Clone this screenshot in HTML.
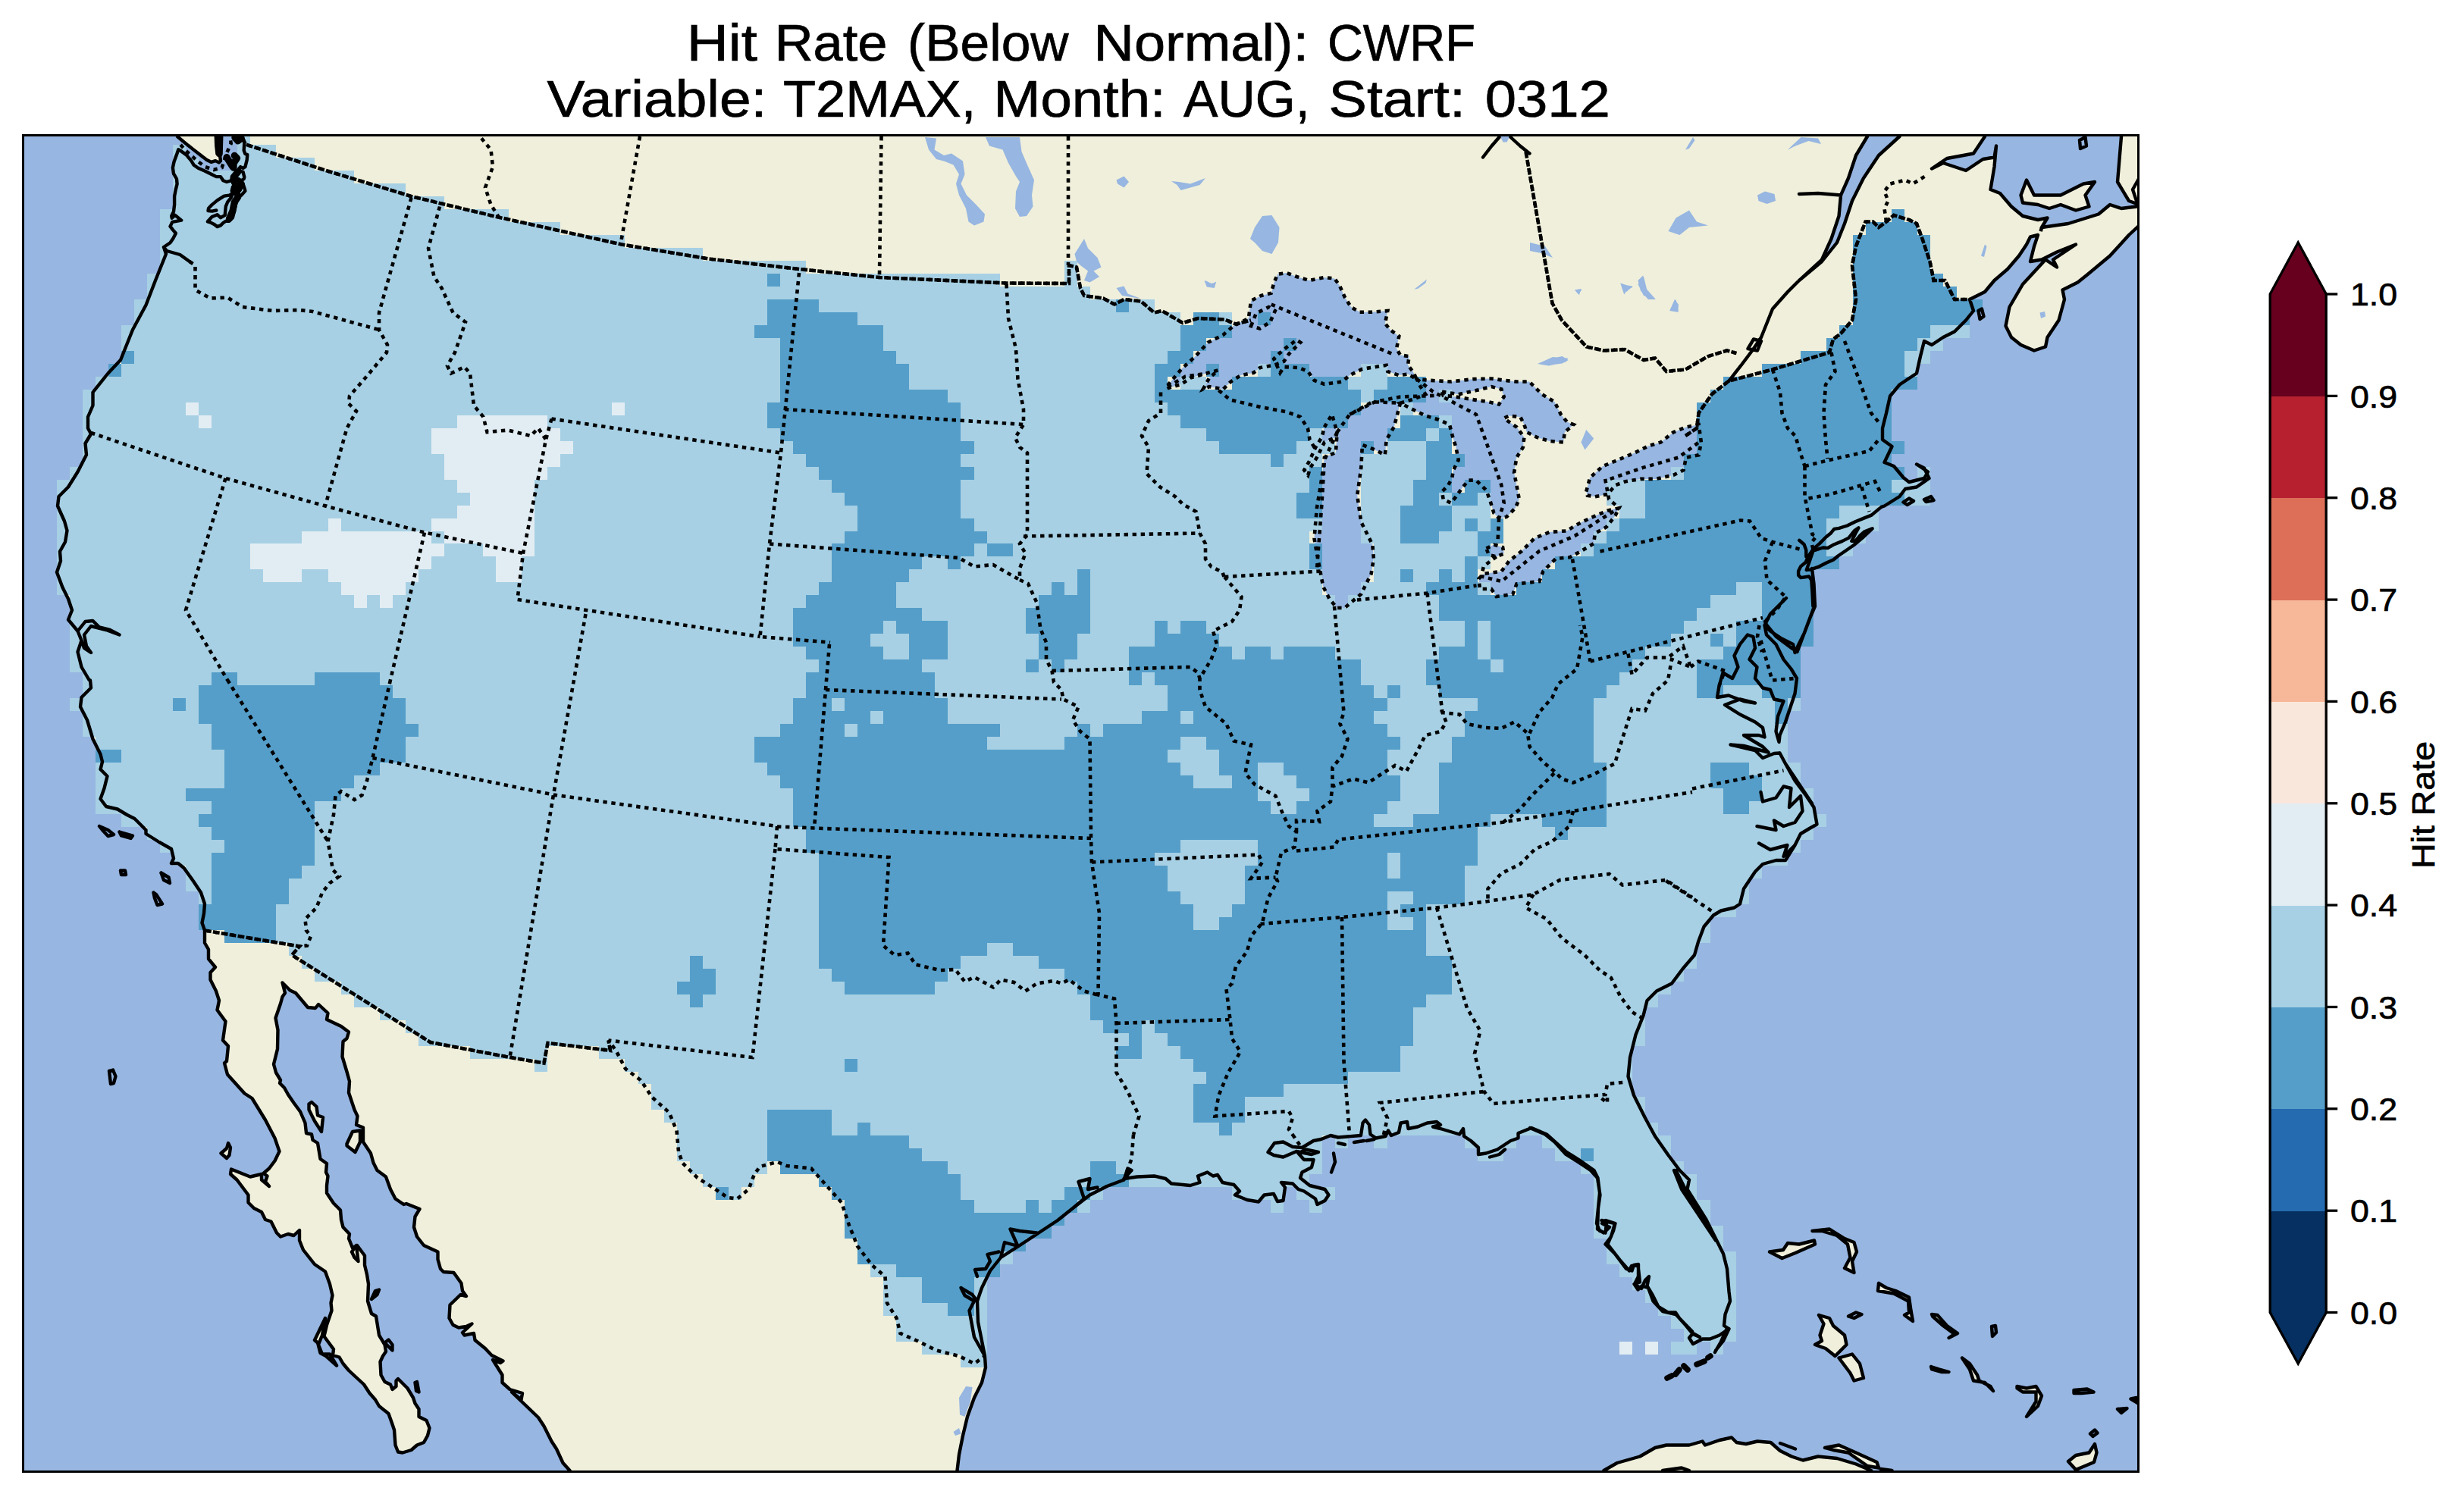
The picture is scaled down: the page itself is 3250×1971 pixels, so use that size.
<!DOCTYPE html><html><head><meta charset="utf-8"><style>html,body{margin:0;padding:0;background:#fff}svg{display:block}text{font-family:"Liberation Sans",sans-serif;fill:#000;stroke:#000;stroke-width:0.7px}</style></head><body><svg width="3250" height="1971" viewBox="0 0 3250 1971">
<defs><clipPath id="fr"><rect x="30.5" y="178.5" width="2790.0" height="1763.0"/></clipPath></defs>
<rect width="3250" height="1971" fill="#fff"/>
<g clip-path="url(#fr)">
<rect x="30.5" y="178.5" width="2790.0" height="1763.0" fill="#97b6e1"/>
<path d="M319.5 178.5 319.5 181.4 322.3 188.2 321.7 198.4 323.4 203.0 326.3 204.1 325.7 211.0 323.4 220.1 320.6 221.8 317.2 220.1 314.9 222.9 317.2 225.7 320.6 226.9 322.3 233.7 321.7 236.0 318.3 238.3 306.4 233.7 304.7 238.3 299.0 240.0 294.4 238.3 291.0 233.1 285.3 233.1 279.6 230.3 270.5 225.7 261.4 221.8 255.7 217.8 252.3 212.1 245.5 204.1 237.5 198.4 235.3 197.3 233.0 204.1 229.6 213.2 227.9 221.2 229.0 229.2 233.0 236.0 233.6 242.8 231.9 249.6 230.1 258.7 230.1 270.1 229.0 279.2 226.2 284.9 226.7 287.7 230.7 283.8 239.2 290.6 227.3 292.9 224.5 298.6 227.9 303.1 231.9 307.7 228.4 314.5 224.5 320.2 216.0 326.0 219.0 335.0 205.0 370.0 192.5 402.5 175.0 435.0 159.0 475.0 142.5 492.5 122.5 517.5 122.5 535.0 116.0 550.0 116.0 565.0 120.0 572.5 112.5 585.0 114.0 600.0 102.5 622.5 90.0 642.5 77.5 655.0 76.0 667.5 85.0 687.5 88.5 700.0 86.0 715.0 79.0 727.5 80.0 740.0 75.0 755.0 82.5 775.0 90.0 790.0 95.0 805.0 90.0 817.5 102.5 832.5 107.5 845.0 102.5 860.0 107.5 880.0 117.5 897.0 119.0 897.5 120.0 907.5 107.5 920.0 106.0 932.5 115.0 950.0 122.5 975.0 132.5 995.0 135.0 1005.0 132.5 1015.0 141.5 1024.0 137.5 1040.0 132.5 1054.0 140.0 1064.0 155.0 1067.5 167.5 1075.0 177.5 1080.0 192.5 1095.0 192.5 1100.0 210.0 1111.0 226.0 1120.0 229.0 1132.5 226.0 1139.0 235.0 1139.0 242.5 1145.0 255.0 1162.5 265.0 1177.5 270.0 1192.5 269.0 1205.0 266.5 1217.5 270.0 1227.5 270.0 1244.0 275.0 1252.5 275.0 1265.0 284.0 1276.0 277.5 1283.0 277.5 1292.5 285.0 1307.5 289.0 1320.0 286.5 1332.5 297.5 1347.5 294.0 1372.5 301.0 1380.0 299.0 1400.0 296.0 1402.5 300.0 1417.5 322.5 1442.5 332.5 1449.0 350.0 1477.5 362.5 1501.5 368.5 1519.0 362.5 1531.5 355.0 1541.5 347.5 1548.0 352.5 1551.5 350.0 1559.0 355.0 1565.0 345.0 1556.5 345.0 1549.0 330.0 1552.5 305.0 1542.5 304.0 1549.0 312.5 1556.5 327.5 1576.5 327.5 1586.5 335.0 1594.0 345.0 1599.0 350.0 1609.0 357.5 1611.5 365.0 1626.5 370.0 1631.5 380.0 1628.0 387.5 1630.0 395.0 1623.0 395.0 1636.5 400.0 1649.0 415.0 1668.0 429.0 1677.5 435.0 1694.0 438.5 1709.0 436.5 1719.0 437.5 1729.0 431.0 1748.0 427.5 1763.0 440.0 1780.0 439.0 1788.0 447.5 1790.5 452.5 1799.0 460.0 1808.0 480.0 1826.5 487.5 1838.0 495.0 1846.5 500.0 1855.0 512.5 1865.0 517.5 1879.0 520.0 1886.5 521.5 1906.5 525.0 1915.5 531.0 1916.5 542.5 1913.0 550.0 1906.5 559.0 1903.0 564.0 1894.0 566.5 1884.0 562.5 1874.0 552.5 1869.0 552.5 1859.0 547.5 1851.5 545.0 1844.0 537.5 1831.5 525.0 1819.0 522.5 1821.5 522.5 1829.0 517.5 1833.0 515.0 1826.5 507.5 1823.0 502.5 1814.0 501.5 1796.5 505.0 1789.0 509.0 1783.0 507.5 1774.0 500.0 1761.5 496.0 1736.5 490.0 1733.0 485.0 1716.5 486.0 1694.0 484.0 1681.5 481.0 1669.0 481.0 1656.5 471.0 1643.0 465.0 1646.5 460.0 1634.0 461.0 1628.0 452.5 1619.0 450.0 1609.0 449.0 1596.5 440.0 1587.5 431.0 1574.0 431.0 1564.0 432.5 1551.5 430.0 1546.5 431.0 1535.0 422.5 1529.0 419.0 1508.0 412.5 1504.0 411.0 1496.5 404.0 1495.0 402.5 1481.5 396.0 1466.5 387.5 1455.0 380.0 1444.0 375.0 1435.0 369.0 1429.0 370.0 1425.0 364.0 1415.0 361.0 1404.0 366.0 1384.0 366.5 1359.0 363.5 1343.0 370.0 1324.0 372.5 1315.0 376.0 1310.0 372.5 1296.5 382.5 1306.5 390.0 1310.0 406.0 1329.0 416.0 1330.0 420.0 1325.0 432.5 1336.5 431.0 1345.0 450.0 1354.0 460.0 1361.5 457.5 1370.0 452.5 1374.0 451.5 1394.0 457.5 1414.0 461.0 1426.5 460.0 1441.5 467.5 1464.0 471.5 1472.5 470.0 1484.0 479.0 1487.5 479.0 1506.5 489.0 1521.5 492.5 1534.0 497.5 1544.0 509.0 1552.5 515.0 1569.0 521.5 1581.5 532.5 1589.0 536.0 1588.0 553.5 1595.0 547.5 1605.0 546.0 1619.0 550.0 1631.5 559.0 1643.0 577.5 1651.5 577.5 1661.5 581.0 1674.0 585.0 1678.0 598.5 1679.0 608.5 1693.0 610.0 1703.0 615.0 1710.0 607.5 1708.0 593.5 1721.5 592.5 1739.0 597.5 1748.0 605.0 1751.5 615.0 1750.0 622.5 1746.5 610.0 1758.0 612.5 1761.5 625.0 1759.0 626.5 1768.0 640.0 1779.0 648.5 1788.0 663.5 1795.5 660.0 1798.0 650.0 1794.0 662.5 1814.0 662.5 1824.0 672.5 1833.0 689.0 1838.0 687.5 1846.5 675.0 1836.5 710.0 1870.0 717.5 1881.5 727.5 1901.5 734.0 1911.5 742.5 1930.0 751.5 1940.0 751.5 1941.5 1262.5 1941.5 1262.5 1940.0 1265.0 1919.0 1270.0 1894.0 1276.0 1869.0 1285.0 1844.0 1295.0 1824.0 1300.0 1804.0 1299.0 1789.0 1295.0 1769.0 1290.0 1744.0 1289.0 1716.5 1295.0 1699.0 1306.0 1676.5 1320.0 1659.0 1345.0 1643.0 1370.0 1626.5 1395.0 1610.0 1415.0 1594.0 1437.5 1576.5 1460.0 1565.0 1482.5 1556.5 1483.0 1554.9 1500.0 1552.5 1522.5 1551.5 1537.5 1555.0 1545.0 1561.5 1570.0 1564.0 1582.5 1560.0 1580.0 1551.5 1592.5 1546.5 1600.0 1551.5 1606.0 1550.0 1612.5 1560.0 1627.5 1563.0 1635.0 1571.5 1629.0 1576.5 1645.0 1583.0 1660.0 1585.5 1667.5 1576.5 1680.0 1575.0 1685.0 1585.0 1692.5 1584.0 1695.0 1566.5 1690.0 1560.0 1705.0 1561.5 1712.5 1569.0 1720.0 1571.5 1735.0 1581.5 1737.5 1589.0 1747.5 1584.0 1752.5 1576.5 1747.5 1569.0 1727.5 1564.0 1715.0 1554.0 1717.5 1546.5 1730.0 1540.0 1732.5 1530.0 1720.0 1530.0 1712.5 1521.5 1715.4 1520.1 1710.0 1519.0 1692.5 1526.5 1680.0 1524.0 1672.5 1520.0 1681.0 1508.0 1692.5 1506.5 1705.0 1513.0 1717.5 1514.0 1732.5 1505.0 1742.5 1503.0 1755.0 1498.0 1765.0 1500.5 1795.0 1498.0 1797.5 1481.5 1801.0 1477.5 1806.0 1484.0 1807.5 1496.5 1815.0 1501.5 1827.5 1499.0 1831.0 1491.5 1835.0 1498.0 1845.0 1494.0 1847.5 1481.5 1856.0 1480.0 1857.5 1489.0 1870.0 1486.5 1882.5 1481.5 1895.0 1480.0 1900.0 1484.0 1890.0 1486.5 1900.0 1489.0 1925.0 1496.5 1930.0 1489.0 1931.0 1499.0 1940.0 1505.0 1950.0 1514.0 1950.0 1523.0 1960.0 1521.5 1975.0 1516.5 1992.5 1505.0 2002.5 1501.5 2002.5 1495.0 2019.0 1488.4 2038.0 1496.5 2050.5 1506.5 2065.5 1523.0 2083.0 1534.0 2098.0 1544.0 2107.0 1554.0 2110.5 1576.5 2108.0 1594.0 2107.0 1621.5 2115.5 1626.5 2123.0 1619.0 2113.0 1614.0 2118.0 1610.0 2130.5 1614.0 2128.0 1624.0 2120.5 1641.5 2138.0 1664.0 2149.0 1676.5 2152.0 1670.0 2160.5 1669.0 2163.0 1691.5 2155.5 1694.0 2160.5 1701.5 2165.5 1696.5 2174.0 1699.0 2180.5 1716.5 2193.0 1730.0 2210.5 1734.0 2224.0 1749.0 2232.6 1759.5 2228.0 1765.0 2233.0 1773.0 2245.5 1766.5 2255.5 1766.5 2268.0 1761.5 2280.5 1753.0 2274.0 1749.0 2275.5 1734.0 2282.0 1716.5 2280.5 1704.0 2278.0 1674.0 2273.0 1654.0 2263.0 1634.0 2250.5 1609.0 2238.0 1589.0 2225.5 1569.0 2228.0 1556.5 2215.5 1544.0 2200.5 1524.0 2183.0 1499.0 2170.0 1475.0 2155.0 1445.0 2147.5 1420.0 2150.0 1395.0 2157.5 1365.0 2167.5 1340.0 2172.5 1320.0 2185.0 1307.5 2205.0 1297.5 2220.0 1277.5 2235.0 1260.0 2240.0 1242.5 2247.5 1222.5 2260.0 1207.5 2270.0 1201.5 2287.5 1197.5 2295.0 1192.5 2300.0 1172.5 2315.0 1150.0 2325.0 1140.0 2342.5 1135.0 2355.0 1135.0 2367.5 1115.0 2375.0 1100.0 2387.5 1092.5 2396.5 1087.5 2392.5 1065.0 2382.5 1050.0 2367.5 1030.0 2355.0 1007.5 2347.5 993.5 2346.5 979.0 2347.5 970.0 2355.0 952.5 2360.0 937.5 2367.5 915.0 2370.0 895.0 2362.5 882.5 2352.5 870.0 2370.5 860.0 2378.0 840.0 2385.5 820.0 2393.0 800.0 2391.4 800.0 2390.3 779.2 2389.3 765.3 2386.1 760.5 2375.3 762.1 2372.1 758.9 2372.1 753.5 2375.3 747.1 2381.8 741.7 2385.0 734.2 2391.4 724.6 2400.0 717.1 2408.5 708.5 2415.0 703.2 2419.3 697.8 2425.7 696.8 2436.4 693.5 2447.1 688.2 2457.8 683.9 2468.5 679.6 2481.4 668.9 2485.5 667.5 2505.5 655.0 2513.0 645.0 2528.0 642.5 2544.5 631.0 2541.6 624.9 2538.0 631.0 2518.0 636.0 2510.5 630.0 2498.0 615.0 2485.5 610.0 2495.5 589.0 2483.0 580.0 2483.0 565.0 2488.0 545.0 2493.0 522.5 2505.5 507.5 2528.0 492.5 2533.0 470.0 2538.0 450.0 2548.0 455.0 2563.0 445.0 2578.0 437.5 2593.0 422.5 2603.0 410.0 2598.0 395.0 2618.0 385.0 2630.5 370.0 2648.0 355.0 2663.0 337.5 2673.0 322.5 2678.0 312.5 2688.0 310.0 2683.0 325.0 2678.0 345.0 2693.0 342.5 2713.0 332.5 2738.0 322.5 2708.0 342.5 2713.0 352.5 2698.0 342.5 2668.0 375.0 2650.5 405.0 2645.5 430.0 2653.0 445.0 2665.5 455.0 2683.0 462.5 2698.0 457.5 2700.5 445.0 2715.5 422.5 2723.0 395.0 2720.5 382.5 2740.5 372.5 2753.0 362.5 2783.0 337.5 2808.0 310.0 2821.5 297.5 2820.5 297.5 2820.5 270.7 2818.0 272.5 2798.0 275.0 2783.0 270.0 2768.0 282.5 2728.0 295.0 2693.0 300.0 2700.5 287.5 2688.0 290.0 2668.0 285.0 2653.0 272.5 2638.0 255.0 2625.5 250.0 2630.5 220.0 2633.0 192.5 2630.5 207.5 2615.5 210.0 2593.0 225.0 2563.0 215.0 2548.0 222.5 2568.0 209.0 2603.0 202.5 2618.0 180.0 2618.0 178.5 2505.5 178.5 2505.5 180.0 2478.0 205.0 2458.0 235.0 2443.0 265.0 2433.0 295.0 2423.0 320.0 2403.0 345.0 2403.0 342.5 2415.5 315.0 2425.5 285.0 2428.0 257.5 2438.0 235.0 2448.0 205.0 2463.0 180.0 2463.0 178.5ZM1483.3 1554.1 1487.5 1541.5 1492.5 1544.0ZM2280.5 1753.0 2263.0 1781.5 2273.0 1769.0ZM2539.2 620.0 2538.0 617.5 2528.0 612.5Z" fill="#efefdb" fill-rule="evenodd"/>
<path d="M234.1 180.2 247.8 191.6 263.7 204.1 272.8 211.0 278.5 213.8 284.2 212.1 288.7 214.4 291.0 212.1 289.9 204.1 286.5 203.0 285.3 192.8 284.8 180.2 284.8 173.5 234.1 173.5ZM2665.5 257.5 2673.0 237.5 2683.0 257.5 2718.0 257.5 2748.0 242.5 2763.0 240.0 2750.5 257.5 2755.5 272.5 2738.0 277.5 2718.0 270.0 2703.0 275.0 2688.0 270.0 2668.0 267.5 2665.5 257.5ZM2382.8 751.9 2388.2 736.4 2391.4 726.7 2397.8 724.6 2404.3 722.5 2410.7 723.0 2419.3 718.2 2430.0 713.9 2438.5 709.6 2446.0 700.0 2451.4 696.4 2447.1 704.3 2442.3 713.9 2447.1 713.9 2453.5 706.4 2458.9 701.6 2469.6 697.3 2457.8 708.5 2445.0 719.3 2434.2 726.7 2424.6 733.2 2418.2 738.5 2408.5 742.8 2397.8 748.2 2388.2 751.4 2382.8 751.9ZM2115.5 1940.0 2133.0 1930.0 2163.0 1921.5 2183.0 1910.0 2198.0 1906.5 2228.0 1906.5 2245.5 1901.5 2249.0 1906.5 2268.0 1900.0 2284.0 1896.5 2290.5 1903.0 2303.0 1905.0 2318.0 1901.5 2335.5 1903.0 2348.0 1914.0 2363.0 1921.5 2378.0 1926.5 2398.0 1921.5 2423.0 1924.0 2448.0 1931.5 2468.0 1940.0 2468.0 1946.5 2115.5 1946.5ZM2798.0 180.0 2793.0 240.0 2808.0 265.0 2821.5 270.0 2825.5 270.0 2825.5 173.5 2798.0 173.5ZM2334.0 1651.5 2350.5 1660.0 2368.0 1653.0 2394.0 1641.5 2393.0 1636.5 2373.0 1641.5 2358.0 1640.0 2352.0 1649.0 2334.0 1651.5ZM2390.5 1624.0 2413.0 1621.5 2433.0 1634.0 2445.5 1639.0 2449.0 1651.5 2443.0 1664.0 2445.5 1679.0 2433.0 1673.0 2440.5 1659.0 2437.0 1641.5 2423.0 1630.0 2403.0 1624.0 2390.5 1624.0ZM2399.0 1735.0 2413.0 1739.0 2418.0 1749.0 2433.0 1761.5 2435.5 1774.0 2420.5 1789.0 2408.0 1779.0 2394.0 1774.0 2403.0 1769.0 2400.5 1761.5 2405.5 1746.5 2399.0 1735.0ZM2425.5 1791.5 2443.0 1786.5 2453.0 1799.0 2458.0 1818.0 2445.5 1821.5 2440.5 1811.5 2425.5 1791.5ZM2478.0 1693.0 2488.0 1699.0 2500.5 1703.0 2518.0 1711.5 2520.5 1729.0 2523.0 1743.0 2512.0 1735.0 2518.0 1731.5 2517.0 1716.5 2498.0 1706.5 2477.0 1703.0 2478.0 1693.0ZM2728.0 1928.0 2738.0 1920.0 2755.5 1916.5 2763.0 1905.0 2765.5 1916.5 2762.0 1929.0 2738.0 1939.0 2728.0 1928.0ZM2407.0 1910.0 2425.5 1906.5 2448.0 1916.5 2475.5 1929.0 2478.0 1936.5 2463.0 1934.0 2438.0 1916.5 2418.0 1913.0 2407.0 1910.0ZM2660.5 1829.0 2673.0 1831.5 2685.5 1829.0 2693.0 1841.5 2688.0 1855.0 2673.0 1869.0 2685.5 1849.0 2685.5 1836.5 2668.0 1836.5 2660.5 1831.5 2660.5 1829.0ZM2588.0 1791.5 2598.0 1799.0 2608.0 1814.0 2610.5 1821.5 2625.5 1829.0 2629.0 1835.0 2618.0 1824.0 2603.0 1821.5 2598.0 1806.5 2588.0 1791.5ZM2548.0 1734.0 2555.5 1735.0 2568.0 1749.0 2582.0 1759.0 2570.5 1765.0 2578.0 1760.0 2563.0 1749.0 2549.0 1736.5 2548.0 1734.0ZM415.0 1768.0 429.0 1739.0 425.0 1761.5 420.0 1774.0 425.0 1786.5 435.0 1786.5 444.0 1801.5 430.0 1789.0 422.5 1785.0 419.0 1771.5 415.0 1768.0ZM457.5 1509.0 465.0 1493.0 475.0 1491.5 475.0 1506.5 468.5 1520.0 457.5 1511.5 457.5 1509.0ZM407.5 1456.5 411.0 1454.0 417.5 1460.0 419.0 1471.5 426.0 1474.0 424.0 1493.0 415.0 1479.0 407.5 1464.0 407.5 1456.5ZM291.5 1521.5 299.0 1515.0 301.0 1508.0 304.0 1514.0 302.5 1524.0 299.0 1528.0 291.5 1521.5Z" fill="#efefdb"/>
<path d="M1540.0 508.5 1558.4 486.8 1576.7 470.1 1593.4 451.8 1613.4 441.8 1626.8 430.1 1646.8 420.1 1650.1 396.7 1663.5 390.0 1676.8 386.7 1680.2 373.4 1685.2 361.7 1696.8 360.0 1710.2 365.0 1726.9 370.0 1746.9 366.0 1760.2 367.4 1766.9 376.7 1773.6 391.7 1781.9 405.1 1793.6 411.7 1808.6 411.7 1830.3 410.1 1826.9 426.7 1833.6 435.1 1845.3 443.4 1842.0 460.1 1847.0 468.4 1858.6 470.1 1857.0 481.8 1863.6 490.1 1868.6 500.1 1857.0 493.5 1845.3 495.1 1830.3 490.1 1828.6 481.8 1796.9 486.8 1780.2 495.1 1770.2 503.5 1746.9 506.8 1733.5 501.8 1725.2 490.1 1713.5 485.1 1693.5 484.1 1688.5 491.8 1680.2 473.4 1686.8 466.8 1696.8 458.4 1710.2 448.4 1715.2 451.8 1700.2 466.8 1693.5 476.8 1680.2 481.8 1661.8 485.1 1653.5 491.8 1636.8 495.1 1623.4 503.5 1613.4 513.5 1595.1 510.1 1586.8 513.5 1595.1 498.5 1606.8 488.5 1590.1 492.8 1570.1 498.5 1558.4 506.8 1541.7 511.8ZM1763.6 570.2 1780.2 546.8 1810.3 530.2 1847.0 531.8 1838.6 563.5 1828.6 580.2 1826.9 600.2 1813.6 593.5 1796.9 586.9 1795.3 616.9 1790.2 653.6 1795.3 688.6 1810.3 718.6 1811.9 737.0 1808.6 757.0 1795.3 783.7 1773.6 802.0 1763.6 802.0 1753.6 790.4 1745.2 773.7 1736.9 730.3 1733.5 710.3 1736.9 670.3 1743.5 630.2 1746.9 603.6 1761.9 596.9ZM1746.9 563.5 1756.9 546.8 1763.6 570.2 1761.9 576.9 1746.9 583.5 1736.9 603.6 1728.5 616.9 1725.2 626.9 1720.2 620.2 1726.9 608.6 1735.2 590.2 1743.5 576.9ZM1847.0 531.8 1863.6 526.8 1880.3 520.2 1873.6 510.1 1868.6 500.1 1885.3 501.8 1913.7 503.5 1943.7 500.1 1967.1 499.5 1983.7 501.8 2000.4 503.5 2017.1 503.5 2033.8 520.2 2050.5 530.2 2058.8 546.8 2067.1 556.8 2075.5 560.2 2063.8 570.2 2062.1 583.5 2043.8 581.9 2027.1 576.9 2013.8 570.2 2010.4 560.2 2005.4 550.2 1990.4 548.5 1983.7 551.8 2000.4 563.5 2010.4 576.9 2008.8 590.2 2000.4 603.6 1997.1 623.6 2000.4 640.2 2003.8 658.6 1998.7 670.3 1987.1 681.9 1977.1 683.6 1970.4 676.9 1965.4 660.3 1960.4 646.9 1947.0 633.6 1937.0 633.6 1928.7 643.6 1920.4 655.3 1913.7 663.6 1903.7 658.6 1902.0 648.6 1910.3 640.2 1915.3 630.2 1917.0 620.2 1923.7 606.9 1920.4 590.2 1915.3 573.5 1912.0 560.2 1897.0 553.5 1880.3 548.5 1863.6 540.2ZM1960.4 723.6 1970.4 718.6 1982.1 722.0 1983.7 730.3 1973.7 734.3 1963.7 732.0ZM1950.4 763.7 1957.0 757.0 1980.4 753.7 1990.4 740.3 2007.1 727.0 2023.8 710.3 2043.8 702.0 2067.1 700.3 2077.1 693.6 2097.2 683.6 2120.5 673.6 2135.5 670.3 2130.5 680.3 2118.8 695.3 2103.8 703.6 2102.2 717.0 2085.5 727.0 2070.5 735.3 2052.1 737.0 2035.4 753.7 2030.4 767.0 2000.4 770.4 1995.4 783.7 1985.4 785.4 1973.7 787.0 1967.1 777.0 1952.0 777.0ZM2092.2 648.6 2097.2 630.2 2113.8 615.2 2133.9 606.9 2157.2 596.9 2173.9 588.5 2190.6 583.5 2207.2 570.2 2223.9 563.5 2240.6 560.2 2243.9 583.5 2240.6 600.2 2223.9 603.6 2220.6 620.2 2207.2 626.9 2183.9 631.9 2163.9 631.9 2143.9 635.2 2130.5 640.2 2120.5 651.9 2103.8 655.3 2093.8 653.6ZM2092.2 566.9 2102.2 578.5 2090.5 593.5 2085.5 583.5ZM2028.8 480.1 2043.8 473.4 2060.5 470.1 2068.8 475.1 2060.5 479.5 2043.8 481.8ZM2137.2 373.4 2147.2 376.7 2153.9 378.4 2145.5 383.4 2142.2 388.4ZM2160.5 370.0 2167.2 363.4 2170.6 380.0 2183.9 395.1 2173.9 395.1 2163.9 383.4ZM2202.2 410.1 2208.9 395.1 2213.9 401.7 2213.3 411.7ZM2077.1 382.7 2086.5 381.7 2082.1 388.4ZM1588.4 370.0 1596.8 375.0 1604.1 371.7 1601.8 380.0 1591.8 378.4ZM1865.3 381.7 1882.0 368.4 1880.3 373.4 1870.3 380.7ZM1220.0 181.0 1235.0 182.5 1232.5 197.5 1245.0 205.0 1255.0 202.5 1270.0 212.5 1272.5 230.0 1267.5 242.5 1275.0 257.5 1287.5 270.0 1299.0 282.5 1297.5 292.5 1285.0 297.5 1277.5 292.5 1274.0 275.0 1265.0 257.5 1261.0 242.5 1265.0 230.0 1257.5 217.5 1245.0 212.5 1235.0 210.0 1225.0 197.5ZM1300.0 181.0 1345.0 181.0 1347.5 200.0 1355.0 217.5 1364.0 237.5 1361.0 257.5 1362.5 272.5 1354.0 285.0 1345.0 286.0 1339.0 275.0 1340.0 252.5 1345.0 240.0 1340.0 232.5 1330.0 215.0 1322.5 197.5 1305.0 192.5ZM1417.5 335.0 1430.0 315.0 1435.0 327.5 1447.5 340.0 1452.5 352.5 1442.5 357.5 1450.0 365.0 1437.5 372.5 1430.0 370.0 1435.0 357.5 1425.0 350.0 1420.0 345.0ZM1472.5 237.5 1482.5 232.5 1489.0 240.0 1482.5 247.5 1474.0 242.5ZM1545.0 239.0 1555.0 240.0 1570.0 242.5 1590.0 235.0 1582.5 244.0 1557.5 251.0 1552.5 244.0ZM1472.5 380.0 1482.5 377.5 1487.5 387.5 1505.0 394.0 1480.0 390.0ZM1590.0 370.0 1597.5 374.0 1604.0 372.5 1601.5 379.0 1592.5 377.5ZM1655.0 300.0 1665.0 285.0 1677.5 284.0 1687.5 300.0 1686.0 320.0 1677.5 335.0 1665.0 331.0 1655.0 320.0 1649.0 315.0ZM2318.0 257.5 2328.0 252.5 2340.5 256.0 2342.0 265.0 2330.5 269.0 2319.5 265.0ZM2200.5 305.0 2210.5 287.5 2228.0 277.5 2238.0 292.5 2253.0 297.5 2228.0 300.0 2215.5 310.0ZM2160.5 375.0 2168.0 365.0 2173.0 385.0 2183.0 395.0 2168.0 390.0ZM2138.0 375.0 2153.0 377.5 2145.5 385.0ZM2203.0 407.5 2210.5 395.0 2214.0 411.0ZM2077.0 382.5 2085.5 381.0 2083.0 389.0ZM2028.0 480.0 2048.0 471.0 2068.0 472.5 2065.5 477.5 2043.0 482.5ZM2223.0 197.5 2233.0 181.0 2235.5 185.0 2228.0 196.0ZM2358.0 197.5 2375.5 181.0 2398.0 182.5 2402.0 190.0 2385.5 186.0 2368.0 192.5ZM2613.0 337.5 2618.0 322.5 2620.5 325.0 2617.0 339.0ZM2690.5 412.5 2697.0 411.0 2698.0 417.5 2692.0 420.0ZM2018.0 320.0 2038.0 325.0 2048.0 340.0 2033.0 334.0 2018.0 331.0ZM1265.0 1844.0 1274.0 1829.0 1282.5 1830.0 1280.0 1849.0 1272.5 1869.0 1266.0 1866.5ZM1257.5 1889.0 1265.0 1884.0 1267.5 1891.5 1260.0 1894.0ZM1977.5 177.5 1992.5 177.5 1987.5 187.5 1982.5 187.5Z" fill="#97b6e1"/>
<path d="M1902.0 516.8 1923.7 520.2 1947.0 515.1 1967.1 510.1 1980.4 513.5 1983.7 523.5 1977.1 533.5 1963.7 530.2 1940.4 526.8 1920.4 523.5 1903.7 521.8Z" fill="#efefdb"/>
<g shape-rendering="crispEdges">
<path d="M313 174h17v17h-17zM228 191h17v17h-17zM313 191h51v17h-51zM228 208h34v17h-34zM313 208h102v17h-102zM228 225h239v17h-239zM228 242h307v17h-307zM228 259h358v17h-358zM211 276h460v17h-460zM211 293h528v17h-528zM211 310h613v17h-613zM211 327h716v17h-716zM211 344h852v17h-852zM1404 344h17v17h-17zM194 361h818v17h-818zM1029 361h290v17h-290zM1404 361h17v17h-17zM194 378h1244v17h-1244zM177 395h835v17h-835zM1080 395h392v17h-392zM1489 395h34v17h-34zM177 412h835v17h-835zM1131 412h426v17h-426zM1608 412h17v17h-17zM160 429h835v17h-835zM1165 429h392v17h-392zM2546 429h52v17h-52zM160 446h869v17h-869zM1165 446h392v17h-392zM2529 446h34v17h-34zM177 463h852v17h-852zM1182 463h358v17h-358zM2512 463h34v17h-34zM160 480h869v17h-869zM1199 480h324v17h-324zM1659 480h17v17h-17zM1795 480h35v17h-35zM2512 480h17v17h-17zM126 497h903v17h-903zM1199 497h324v17h-324zM1557 497h34v17h-34zM1778 497h52v17h-52zM109 514h920v17h-920zM1250 514h273v17h-273zM1795 514h17v17h-17zM1898 514h17v17h-17zM109 531h136v17h-136zM262 531h545v17h-545zM824 531h188v17h-188zM1267 531h273v17h-273zM1847 531h17v17h-17zM109 548h153v17h-153zM279 548h324v17h-324zM722 548h290v17h-290zM1267 548h290v17h-290zM1898 548h17v17h-17zM109 565h460v17h-460zM739 565h290v17h-290zM1267 565h324v17h-324zM1727 565h17v17h-17zM1881 565h17v17h-17zM109 582h460v17h-460zM756 582h290v17h-290zM1285 582h323v17h-323zM1710 582h51v17h-51zM1830 582h51v17h-51zM109 599h477v17h-477zM739 599h324v17h-324zM1267 599h409v17h-409zM1693 599h51v17h-51zM1795 599h86v17h-86zM92 616h494v17h-494zM722 616h358v17h-358zM1285 616h442v17h-442zM1795 616h86v17h-86zM2204 616h17v17h-17zM2529 616h17v17h-17zM75 633h528v17h-528zM705 633h392v17h-392zM1267 633h460v17h-460zM1795 633h69v17h-69zM2119 633h51v17h-51zM2495 633h51v17h-51zM75 650h545v17h-545zM705 650h409v17h-409zM1267 650h443v17h-443zM1795 650h69v17h-69zM1898 650h17v17h-17zM1949 650h17v17h-17zM2119 650h51v17h-51zM2512 650h34v17h-34zM75 667h528v17h-528zM705 667h426v17h-426zM1267 667h443v17h-443zM1795 667h52v17h-52zM1915 667h51v17h-51zM2136 667h34v17h-34zM2426 667h52v17h-52zM75 684h358v17h-358zM450 684h119v17h-119zM705 684h426v17h-426zM1285 684h459v17h-459zM1795 684h52v17h-52zM1915 684h17v17h-17zM1949 684h17v17h-17zM2119 684h17v17h-17zM2409 684h69v17h-69zM75 701h323v16h-323zM569 701h17v16h-17zM705 701h409v16h-409zM1302 701h425v16h-425zM1795 701h52v16h-52zM1898 701h51v16h-51zM2102 701h17v16h-17zM2409 701h52v16h-52zM75 717h255v17h-255zM586 717h51v17h-51zM705 717h392v17h-392zM1285 717h17v17h-17zM1336 717h391v17h-391zM1812 717h137v17h-137zM2085 717h17v17h-17zM2409 717h35v17h-35zM75 734h255v17h-255zM569 734h85v17h-85zM688 734h409v17h-409zM1216 734h34v17h-34zM1267 734h460v17h-460zM1812 734h120v17h-120zM1949 734h17v17h-17zM75 751h272v17h-272zM398 751h35v17h-35zM552 751h102v17h-102zM688 751h409v17h-409zM1199 751h222v17h-222zM1438 751h306v17h-306zM1812 751h35v17h-35zM1864 751h34v17h-34zM1915 751h17v17h-17zM75 768h375v17h-375zM535 768h545v17h-545zM1182 768h205v17h-205zM1404 768h17v17h-17zM1438 768h306v17h-306zM1795 768h86v17h-86zM1949 768h17v17h-17zM2290 768h34v17h-34zM92 785h375v17h-375zM484 785h17v17h-17zM518 785h545v17h-545zM1182 785h188v17h-188zM1438 785h323v17h-323zM1778 785h120v17h-120zM2256 785h68v17h-68zM92 802h954v17h-954zM1216 802h137v17h-137zM1438 802h460v17h-460zM2238 802h86v17h-86zM92 819h954v17h-954zM1165 819h17v17h-17zM1250 819h103v17h-103zM1438 819h85v17h-85zM1540 819h17v17h-17zM1591 819h341v17h-341zM1949 819h17v17h-17zM2221 819h69v17h-69zM92 836h954v17h-954zM1148 836h51v17h-51zM1250 836h120v17h-120zM1421 836h102v17h-102zM1608 836h324v17h-324zM1949 836h17v17h-17zM2204 836h52v17h-52zM2273 836h17v17h-17zM92 853h971v17h-971zM1165 853h34v17h-34zM1250 853h120v17h-120zM1421 853h68v17h-68zM1625 853h17v17h-17zM1676 853h17v17h-17zM1761 853h137v17h-137zM1949 853h17v17h-17zM2170 853h103v17h-103zM92 870h988v17h-988zM1216 870h137v17h-137zM1370 870h17v17h-17zM1404 870h85v17h-85zM1795 870h86v17h-86zM1966 870h17v17h-17zM2153 870h85v17h-85zM109 887h170v17h-170zM313 887h102v17h-102zM501 887h562v17h-562zM1233 887h256v17h-256zM1506 887h17v17h-17zM1795 887h86v17h-86zM2136 887h102v17h-102zM109 904h153v17h-153zM518 904h545v17h-545zM1233 904h307v17h-307zM1812 904h18v17h-18zM1847 904h51v17h-51zM2119 904h119v17h-119zM2273 904h51v17h-51zM92 921h136v17h-136zM245 921h17v17h-17zM535 921h511v17h-511zM1097 921h17v17h-17zM1250 921h290v17h-290zM1830 921h119v17h-119zM2102 921h239v17h-239zM2358 921h17v17h-17zM109 938h153v17h-153zM535 938h511v17h-511zM1148 938h17v17h-17zM1250 938h256v17h-256zM1557 938h17v17h-17zM1812 938h120v17h-120zM2102 938h239v17h-239zM109 955h170v17h-170zM552 955h477v17h-477zM1114 955h17v17h-17zM1319 955h102v17h-102zM1438 955h17v17h-17zM1830 955h102v17h-102zM2102 955h256v17h-256zM126 972h153v17h-153zM535 972h460v17h-460zM1302 972h102v17h-102zM1557 972h34v17h-34zM1847 972h68v17h-68zM2102 972h256v17h-256zM160 989h136v17h-136zM535 989h460v17h-460zM1540 989h68v17h-68zM1830 989h85v17h-85zM2102 989h256v17h-256zM126 1006h170v17h-170zM501 1006h511v17h-511zM1557 1006h51v17h-51zM1659 1006h34v17h-34zM1830 1006h68v17h-68zM2119 1006h137v17h-137zM2307 1006h68v17h-68zM126 1023h170v17h-170zM467 1023h562v17h-562zM1574 1023h51v17h-51zM1659 1023h51v17h-51zM1847 1023h51v17h-51zM2119 1023h137v17h-137zM2324 1023h51v17h-51zM126 1040h119v17h-119zM450 1040h596v17h-596zM1659 1040h68v17h-68zM1847 1040h51v17h-51zM2119 1040h154v17h-154zM2324 1040h68v17h-68zM126 1057h153v17h-153zM415 1057h631v17h-631zM1676 1057h34v17h-34zM1830 1057h68v17h-68zM2119 1057h154v17h-154zM2307 1057h85v17h-85zM160 1074h102v17h-102zM415 1074h631v17h-631zM1812 1074h52v17h-52zM1966 1074h68v17h-68zM2119 1074h290v17h-290zM194 1091h85v17h-85zM415 1091h648v17h-648zM1949 1091h102v17h-102zM2068 1091h324v17h-324zM211 1108h85v17h-85zM415 1108h648v17h-648zM1557 1108h102v17h-102zM1949 1108h426v17h-426zM228 1125h51v17h-51zM415 1125h665v17h-665zM1523 1125h136v17h-136zM1830 1125h17v17h-17zM1949 1125h409v17h-409zM245 1142h34v17h-34zM398 1142h682v17h-682zM1540 1142h102v17h-102zM1830 1142h17v17h-17zM1932 1142h392v17h-392zM245 1159h34v17h-34zM381 1159h699v17h-699zM1540 1159h102v17h-102zM1932 1159h375v17h-375zM262 1176h17v17h-17zM381 1176h699v17h-699zM1557 1176h85v17h-85zM1830 1176h34v17h-34zM1932 1176h375v17h-375zM364 1193h716v17h-716zM1574 1193h51v17h-51zM1830 1193h17v17h-17zM1881 1193h409v17h-409zM364 1210h716v17h-716zM1574 1210h34v17h-34zM1830 1210h34v17h-34zM1881 1210h375v17h-375zM364 1227h716v17h-716zM1881 1227h375v17h-375zM381 1244h699v17h-699zM1302 1244h34v17h-34zM1881 1244h357v17h-357zM398 1261h512v17h-512zM927 1261h153v17h-153zM1267 1261h103v17h-103zM1915 1261h323v17h-323zM415 1278h495v17h-495zM944 1278h153v17h-153zM1250 1278h154v17h-154zM1915 1278h306v17h-306zM450 1295h443v17h-443zM944 1295h170v17h-170zM1233 1295h188v17h-188zM1915 1295h289v17h-289zM467 1312h443v17h-443zM927 1312h511v17h-511zM1881 1312h306v17h-306zM501 1329h937v17h-937zM1864 1329h306v17h-306zM535 1346h920v17h-920zM1506 1346h17v17h-17zM1864 1346h306v17h-306zM552 1363h937v17h-937zM1506 1363h34v17h-34zM1864 1363h306v17h-306zM620 1380h102v17h-102zM790 1380h682v17h-682zM1506 1380h51v17h-51zM1847 1380h306v17h-306zM705 1397h17v17h-17zM824 1397h290v17h-290zM1131 1397h443v17h-443zM1847 1397h306v17h-306zM842 1414h749v16h-749zM1778 1414h375v16h-375zM859 1430h715v17h-715zM1693 1430h460v17h-460zM859 1447h715v17h-715zM1642 1447h528v17h-528zM876 1464h136v17h-136zM1097 1464h477v17h-477zM1642 1464h528v17h-528zM893 1481h119v17h-119zM1097 1481h34v17h-34zM1148 1481h460v17h-460zM1625 1481h562v17h-562zM893 1498h119v17h-119zM1199 1498h545v17h-545zM1761 1498h17v17h-17zM1812 1498h18v17h-18zM1932 1498h68v17h-68zM2034 1498h170v17h-170zM893 1515h119v17h-119zM1216 1515h528v17h-528zM1949 1515h34v17h-34zM2051 1515h34v17h-34zM2102 1515h102v17h-102zM910 1532h102v17h-102zM1250 1532h188v17h-188zM1472 1532h272v17h-272zM2085 1532h136v17h-136zM927 1549h68v17h-68zM1267 1549h171v17h-171zM1489 1549h238v17h-238zM2102 1549h136v17h-136zM961 1566h17v17h-17zM1267 1566h137v17h-137zM1438 1566h17v17h-17zM1625 1566h68v17h-68zM1710 1566h51v17h-51zM2102 1566h136v17h-136zM1285 1583h68v17h-68zM1370 1583h17v17h-17zM1421 1583h17v17h-17zM1676 1583h17v17h-17zM1727 1583h17v17h-17zM2102 1583h154v17h-154zM2102 1600h154v17h-154zM2102 1617h171v17h-171zM2119 1634h154v17h-154zM1319 1651h17v17h-17zM2119 1651h171v17h-171zM1148 1668h34v17h-34zM2136 1668h154v17h-154zM1165 1685h51v17h-51zM1285 1685h17v17h-17zM2153 1685h137v17h-137zM1165 1702h51v17h-51zM1285 1702h17v17h-17zM2170 1702h120v17h-120zM1165 1719h85v17h-85zM1285 1719h17v17h-17zM2187 1719h103v17h-103zM1182 1736h120v17h-120zM2204 1736h86v17h-86zM1182 1753h120v17h-120zM2221 1753h69v17h-69zM1216 1770h86v17h-86zM2204 1770h34v17h-34zM2256 1770h17v17h-17zM1267 1787h35v17h-35z" fill="#a7d0e4"/>
<path d="M2495 276h17v17h-17zM2461 293h68v17h-68zM2444 310h102v17h-102zM2444 327h102v17h-102zM2444 344h102v17h-102zM1012 361h17v17h-17zM2444 361h119v17h-119zM2444 378h137v17h-137zM1012 395h68v17h-68zM1472 395h17v17h-17zM2444 395h171v17h-171zM1012 412h119v17h-119zM1574 412h34v17h-34zM1659 412h17v17h-17zM2444 412h154v17h-154zM995 429h170v17h-170zM1557 429h68v17h-68zM2426 429h120v17h-120zM1029 446h136v17h-136zM1557 446h34v17h-34zM1693 446h17v17h-17zM2409 446h120v17h-120zM160 463h17v17h-17zM1029 463h153v17h-153zM1540 463h34v17h-34zM1676 463h17v17h-17zM2375 463h137v17h-137zM143 480h17v17h-17zM1029 480h170v17h-170zM1523 480h34v17h-34zM1591 480h17v17h-17zM1676 480h51v17h-51zM2324 480h188v17h-188zM1029 497h170v17h-170zM1523 497h17v17h-17zM1625 497h153v17h-153zM1830 497h51v17h-51zM2273 497h256v17h-256zM1029 514h221v17h-221zM1523 514h272v17h-272zM1812 514h69v17h-69zM2256 514h239v17h-239zM1012 531h255v17h-255zM1540 531h255v17h-255zM2238 531h257v17h-257zM1012 548h255v17h-255zM1557 548h221v17h-221zM1847 548h51v17h-51zM2238 548h257v17h-257zM1029 565h238v17h-238zM1591 565h136v17h-136zM1830 565h51v17h-51zM1898 565h17v17h-17zM2238 565h257v17h-257zM1046 582h239v17h-239zM1608 582h102v17h-102zM1795 582h17v17h-17zM1881 582h34v17h-34zM2238 582h274v17h-274zM1063 599h204v17h-204zM1676 599h17v17h-17zM1881 599h51v17h-51zM2221 599h274v17h-274zM1080 616h205v17h-205zM1727 616h17v17h-17zM1881 616h34v17h-34zM2221 616h291v17h-291zM1097 633h170v17h-170zM1727 633h17v17h-17zM1864 633h51v17h-51zM1932 633h34v17h-34zM2170 633h325v17h-325zM1114 650h153v17h-153zM1710 650h34v17h-34zM1864 650h34v17h-34zM1915 650h34v17h-34zM2170 650h342v17h-342zM1131 667h136v17h-136zM1710 667h34v17h-34zM1847 667h68v17h-68zM2170 667h256v17h-256zM1131 684h154v17h-154zM1847 684h68v17h-68zM1932 684h17v17h-17zM1966 684h17v17h-17zM2136 684h273v17h-273zM1114 701h188v16h-188zM1847 701h51v16h-51zM1949 701h34v16h-34zM2119 701h290v16h-290zM1097 717h188v17h-188zM1302 717h34v17h-34zM1727 717h17v17h-17zM1949 717h17v17h-17zM2102 717h307v17h-307zM1097 734h119v17h-119zM1250 734h17v17h-17zM1727 734h17v17h-17zM1932 734h17v17h-17zM2051 734h375v17h-375zM1097 751h102v17h-102zM1421 751h17v17h-17zM1847 751h17v17h-17zM1898 751h17v17h-17zM1932 751h17v17h-17zM2034 751h358v17h-358zM1080 768h102v17h-102zM1387 768h17v17h-17zM1421 768h17v17h-17zM1881 768h68v17h-68zM2000 768h290v17h-290zM2324 768h68v17h-68zM1063 785h119v17h-119zM1370 785h68v17h-68zM1898 785h358v17h-358zM2324 785h68v17h-68zM1046 802h170v17h-170zM1353 802h85v17h-85zM1898 802h340v17h-340zM2324 802h68v17h-68zM1046 819h119v17h-119zM1182 819h68v17h-68zM1353 819h85v17h-85zM1523 819h17v17h-17zM1557 819h34v17h-34zM1932 819h17v17h-17zM1966 819h255v17h-255zM2290 819h102v17h-102zM1046 836h102v17h-102zM1199 836h51v17h-51zM1370 836h51v17h-51zM1523 836h85v17h-85zM1932 836h17v17h-17zM1966 836h238v17h-238zM2256 836h17v17h-17zM2290 836h102v17h-102zM1063 853h102v17h-102zM1199 853h51v17h-51zM1370 853h51v17h-51zM1489 853h136v17h-136zM1642 853h34v17h-34zM1693 853h68v17h-68zM1898 853h51v17h-51zM1966 853h204v17h-204zM2273 853h102v17h-102zM1080 870h136v17h-136zM1353 870h17v17h-17zM1387 870h17v17h-17zM1489 870h306v17h-306zM1881 870h85v17h-85zM1983 870h170v17h-170zM2238 870h137v17h-137zM279 887h34v17h-34zM415 887h86v17h-86zM1063 887h170v17h-170zM1489 887h17v17h-17zM1523 887h272v17h-272zM1881 887h255v17h-255zM2238 887h137v17h-137zM262 904h256v17h-256zM1063 904h170v17h-170zM1540 904h272v17h-272zM1830 904h17v17h-17zM1898 904h221v17h-221zM2238 904h35v17h-35zM2324 904h51v17h-51zM228 921h17v17h-17zM262 921h273v17h-273zM1046 921h51v17h-51zM1114 921h136v17h-136zM1540 921h290v17h-290zM1949 921h153v17h-153zM2341 921h17v17h-17zM262 938h273v17h-273zM1046 938h102v17h-102zM1165 938h85v17h-85zM1506 938h51v17h-51zM1574 938h238v17h-238zM1932 938h170v17h-170zM2341 938h17v17h-17zM279 955h273v17h-273zM1029 955h85v17h-85zM1131 955h188v17h-188zM1421 955h17v17h-17zM1455 955h375v17h-375zM1932 955h170v17h-170zM279 972h256v17h-256zM995 972h307v17h-307zM1404 972h153v17h-153zM1591 972h256v17h-256zM1915 972h187v17h-187zM126 989h34v17h-34zM296 989h239v17h-239zM995 989h545v17h-545zM1608 989h222v17h-222zM1915 989h187v17h-187zM296 1006h205v17h-205zM1012 1006h545v17h-545zM1608 1006h51v17h-51zM1693 1006h137v17h-137zM1898 1006h221v17h-221zM2256 1006h51v17h-51zM296 1023h171v17h-171zM1029 1023h545v17h-545zM1625 1023h34v17h-34zM1710 1023h137v17h-137zM1898 1023h221v17h-221zM2256 1023h68v17h-68zM245 1040h205v17h-205zM1046 1040h613v17h-613zM1727 1040h120v17h-120zM1898 1040h221v17h-221zM2273 1040h51v17h-51zM279 1057h136v17h-136zM1046 1057h630v17h-630zM1710 1057h120v17h-120zM1898 1057h221v17h-221zM2273 1057h34v17h-34zM262 1074h153v17h-153zM1046 1074h766v17h-766zM1864 1074h102v17h-102zM2034 1074h85v17h-85zM279 1091h136v17h-136zM1063 1091h886v17h-886zM2051 1091h17v17h-17zM296 1108h119v17h-119zM1063 1108h494v17h-494zM1659 1108h290v17h-290zM279 1125h136v17h-136zM1080 1125h443v17h-443zM1659 1125h171v17h-171zM1847 1125h102v17h-102zM279 1142h119v17h-119zM1080 1142h460v17h-460zM1642 1142h188v17h-188zM1847 1142h85v17h-85zM279 1159h102v17h-102zM1080 1159h460v17h-460zM1642 1159h290v17h-290zM279 1176h102v17h-102zM1080 1176h477v17h-477zM1642 1176h188v17h-188zM1864 1176h68v17h-68zM262 1193h102v17h-102zM1080 1193h494v17h-494zM1625 1193h205v17h-205zM1847 1193h34v17h-34zM262 1210h102v17h-102zM1080 1210h494v17h-494zM1608 1210h222v17h-222zM1864 1210h17v17h-17zM296 1227h68v17h-68zM1080 1227h801v17h-801zM1080 1244h222v17h-222zM1336 1244h545v17h-545zM910 1261h17v17h-17zM1080 1261h187v17h-187zM1370 1261h545v17h-545zM910 1278h34v17h-34zM1097 1278h153v17h-153zM1404 1278h511v17h-511zM893 1295h51v17h-51zM1114 1295h119v17h-119zM1421 1295h494v17h-494zM910 1312h17v17h-17zM1438 1312h443v17h-443zM1438 1329h426v17h-426zM1455 1346h51v17h-51zM1523 1346h341v17h-341zM1489 1363h17v17h-17zM1540 1363h324v17h-324zM1472 1380h34v17h-34zM1557 1380h290v17h-290zM1114 1397h17v17h-17zM1574 1397h273v17h-273zM1591 1414h187v16h-187zM1574 1430h119v17h-119zM1574 1447h68v17h-68zM1012 1464h85v17h-85zM1574 1464h68v17h-68zM1012 1481h85v17h-85zM1131 1481h17v17h-17zM1608 1481h17v17h-17zM1012 1498h187v17h-187zM1012 1515h204v17h-204zM2085 1515h17v17h-17zM1029 1532h221v17h-221zM1438 1532h34v17h-34zM1080 1549h187v17h-187zM1438 1549h51v17h-51zM944 1566h17v17h-17zM1097 1566h170v17h-170zM1404 1566h34v17h-34zM1114 1583h171v17h-171zM1353 1583h17v17h-17zM1387 1583h34v17h-34zM1114 1600h290v17h-290zM1114 1617h273v17h-273zM1131 1634h222v17h-222zM1131 1651h188v17h-188zM1182 1668h137v17h-137zM1216 1685h69v17h-69zM1216 1702h69v17h-69zM1250 1719h35v17h-35z" fill="#559ec9"/>
<path d="M245 531h17v17h-17zM807 531h17v17h-17zM262 548h17v17h-17zM603 548h119v17h-119zM569 565h170v17h-170zM569 582h187v17h-187zM586 599h153v17h-153zM586 616h136v17h-136zM603 633h102v17h-102zM620 650h85v17h-85zM603 667h102v17h-102zM433 684h17v17h-17zM569 684h136v17h-136zM398 701h171v16h-171zM586 701h119v16h-119zM330 717h256v17h-256zM637 717h68v17h-68zM330 734h239v17h-239zM654 734h34v17h-34zM347 751h51v17h-51zM433 751h119v17h-119zM654 751h34v17h-34zM450 768h85v17h-85zM467 785h17v17h-17zM501 785h17v17h-17zM2136 1770h17v17h-17zM2170 1770h17v17h-17z" fill="#e2edf3"/>
</g>
<path d="M250.0 345.0 257.5 350.0 257.5 382.5 277.5 393.5 300.0 392.5 320.0 405.0 360.0 410.0 395.0 409.0 412.5 411.0 500.0 435.0M542.5 261.0 500.0 412.5 500.0 435.0 511.0 455.0 510.0 465.0 485.0 495.0 461.0 522.5 460.0 532.5 470.0 542.5 457.5 565.0 429.0 667.5M580.0 272.5 565.0 327.5 572.5 365.0 582.5 380.0 597.5 412.5 614.0 425.0 600.0 465.0 590.0 482.5 595.0 492.5 612.5 484.0 620.0 492.5 625.0 535.0 637.5 550.0 642.5 570.0 670.0 567.5 700.0 575.0 710.0 565.0 720.0 580.0M727.5 552.5 720.0 580.0 690.0 730.0 682.5 791.0 1002.5 840.0M727.5 552.5 1030.0 597.5M1054.0 360.0 1030.0 597.5 1015.0 717.5 1002.5 840.0 1095.0 847.5M120.0 571.0 297.5 631.0 429.0 667.5 560.0 702.5 690.0 730.0M297.5 631.0 245.0 805.0 300.0 897.0M560.0 702.5 515.0 897.0M238.1 191.0 245.5 199.0 253.5 206.4 261.4 213.2 270.5 220.1 281.9 224.0 292.7 221.2 299.0 201.9 304.7 189.3 303.5 181.4M635.0 182.5 647.5 197.5 650.0 220.0 640.0 247.5 647.5 270.0 657.5 286.0M844.0 180.0 818.5 322.5M1162.5 180.0 1160.0 362.5M1035.0 540.0 1350.0 560.0M1015.0 717.5 1265.0 736.0 1285.0 747.5 1310.0 745.0 1345.0 765.0M1327.5 375.0 1330.0 420.0 1340.0 460.0 1342.5 500.0 1350.0 540.0 1350.0 560.0 1339.0 577.5 1345.0 590.0 1355.0 597.5 1355.0 705.0 1345.0 717.5 1352.5 730.0 1345.0 750.0 1345.0 765.0M1350.0 707.5 1582.5 703.5M1409.0 180.0 1409.0 350.0M1162.5 180.0 1160.0 362.5M1531.0 517.5 1531.0 545.0 1515.0 555.0 1506.0 575.0 1515.0 590.0 1512.5 625.0 1530.0 642.5 1550.0 655.0 1560.0 665.0 1577.5 675.0 1582.5 703.5 1590.0 717.5 1590.0 737.5 1597.5 747.5 1612.5 755.0 1615.0 762.5M1615.0 761.0 1742.5 753.5M1607.5 515.0 1622.5 527.5 1665.0 537.5 1697.5 543.5 1715.0 550.0 1725.0 565.0 1727.5 580.0 1735.0 592.5M1790.0 791.5 1882.5 782.5 1947.5 772.5M2074.0 737.5 2097.5 872.5M1676.8 401.7 1840.3 468.4M1540.0 510.1 1563.4 496.8 1590.1 492.8M1868.6 500.1 1890.3 516.8 1947.0 546.8 1960.4 583.5 1980.4 640.2 1983.7 663.6 1977.1 683.6M1977.1 683.6 1975.4 717.0M1973.7 734.3 1957.0 747.0 1953.7 760.3 1980.4 767.0 2030.4 727.0 2077.1 707.0 2113.8 683.6 2135.5 670.3M2123.8 631.9 2167.2 616.9 2213.9 603.6 2240.6 583.5M2117.2 631.9 2122.2 658.6 2135.5 670.3M1763.6 570.2 1746.9 606.9 1743.5 663.6 1736.9 752.0M1780.2 546.8 1813.6 530.2 1847.0 523.5 1897.0 521.8M2488.0 292.5 2485.5 275.0 2490.5 265.0 2485.5 252.5 2493.0 242.5 2513.0 237.5 2523.0 242.5 2543.0 230.0M2338.0 487.5 2348.0 517.5 2350.5 545.0 2358.0 565.0 2368.0 575.0 2375.5 600.0 2380.5 615.0M2415.5 465.0 2420.5 490.0 2408.0 507.5 2405.5 545.0 2408.0 580.0 2410.5 605.0M2433.0 450.0 2448.0 490.0 2468.0 545.0 2480.5 560.0M2380.5 615.0 2410.5 607.5 2465.5 595.0 2478.0 580.0M2380.5 615.0 2380.5 655.0 2390.5 705.0 2395.7 707.5 2389.3 716.0 2391.4 724.1M2385.5 657.5 2413.0 652.5 2473.0 635.0 2480.5 650.0M2455.5 642.5 2465.5 675.0M2110.5 727.5 2295.5 686.5 2308.0 687.5 2323.0 710.0 2338.0 715.0 2375.5 725.0M2338.0 715.0 2328.0 740.0 2330.5 765.0 2355.5 787.5 2343.0 805.0 2328.0 820.0M2320.5 825.0 2318.0 840.0 2324.0 860.0M2693.0 300.0 2690.5 310.0M300.0 897.0 432.5 1110.0M515.0 897.0 491.5 1000.0 484.0 1030.0 477.5 1049.0 467.5 1055.0 450.0 1044.0 442.5 1050.0 440.0 1075.0 432.5 1110.0 439.0 1147.5 447.5 1156.0 435.0 1165.0 425.0 1177.5 417.5 1197.5 402.5 1212.5 404.0 1227.5 410.0 1235.0 405.0 1247.5 395.0 1248.5M491.5 1000.0 730.0 1048.5 1025.0 1090.0M772.5 810.0 730.0 1048.5 672.5 1395.0M1022.5 1120.0 992.5 1395.0 802.5 1372.5M1094.0 850.0 1089.0 910.0 1074.0 1092.5M1089.0 910.0 1400.0 922.5M1345.0 765.0 1356.0 770.0 1367.5 795.0 1372.5 830.0 1380.0 847.5 1380.0 870.0 1387.5 885.0 1390.0 900.0 1400.0 910.0 1402.5 922.5 1422.5 932.5 1415.0 950.0 1425.0 965.0 1437.5 975.0 1439.0 1105.0 1440.0 1137.5 1450.0 1205.0 1448.5 1312.5 1470.0 1317.5 1472.5 1350.0 1472.5 1415.0 1487.5 1440.0 1502.5 1472.5 1495.0 1497.0M1387.5 885.0 1570.0 880.0 1580.0 887.5 1582.5 895.0M1025.0 1090.5 1074.0 1092.5 1439.0 1106.0M1025.0 1090.0 1022.5 1120.0 1172.5 1131.0 1165.0 1247.5 1180.0 1260.0 1197.5 1257.5 1207.5 1272.5 1240.0 1280.0 1260.0 1279.0 1272.5 1295.0 1285.0 1289.0 1310.0 1302.5 1320.0 1292.5 1337.5 1296.0 1352.5 1307.5 1367.5 1297.5 1390.0 1294.0 1400.0 1297.5 1410.0 1292.5 1430.0 1307.5 1447.5 1312.5M1440.0 1137.5 1660.0 1127.5 1665.0 1137.5 1650.0 1159.0 1682.5 1157.5M1472.5 1350.0 1622.5 1345.0M1615.0 761.0 1637.5 787.5 1635.0 805.0 1625.0 820.0 1600.0 832.5 1605.0 850.0 1597.5 870.0 1582.5 895.0 1582.5 910.0 1590.0 932.5 1617.5 955.0 1627.5 977.5 1650.0 982.5 1642.5 1020.0 1655.0 1035.0 1682.5 1050.0 1692.5 1075.0 1700.0 1090.0 1710.0 1097.5 1707.5 1117.5 1690.0 1125.0 1682.5 1157.5 1685.0 1162.5 1672.5 1185.0 1665.0 1217.5 1650.0 1235.0 1645.0 1255.0 1630.0 1275.0 1625.0 1297.5 1617.5 1305.0 1622.5 1345.0 1625.0 1370.0 1636.0 1387.5 1620.0 1415.0 1607.5 1445.0 1602.5 1472.5 1700.0 1466.0 1705.0 1475.0 1700.0 1490.0 1705.0 1497.0M1760.0 800.0 1772.5 940.0 1767.5 955.0 1777.5 975.0 1770.0 997.5 1757.5 1012.5 1757.5 1037.5M1710.0 1097.5 1710.0 1082.5 1740.0 1084.0 1737.5 1070.0 1755.0 1057.5 1757.5 1037.5 1785.0 1027.5 1805.0 1032.5 1820.0 1022.5 1840.0 1010.0 1855.0 1017.5 1870.0 990.0 1880.0 970.0 1900.0 965.0 1907.5 952.5 1902.5 940.0 1925.0 942.5 1935.0 955.0 1960.0 960.0 1980.0 961.0 1997.5 952.5 2015.0 967.5 2017.5 985.0 2035.0 1005.0 2050.0 1017.5 2060.0 1027.5 2075.0 1032.5 2100.0 1022.5 2130.0 1007.5 2135.0 990.0 2152.5 935.0 2170.0 937.5 2180.0 915.0 2200.0 897.5 2205.0 870.0 2230.0 880.0M1882.5 782.5 1902.5 940.0M2017.5 967.5 2030.0 940.0 2047.5 920.0 2055.0 902.5 2080.0 882.5 2087.5 840.0 2084.0 825.0M1710.0 1122.5 1760.0 1117.5 1765.0 1107.5 1980.0 1085.0 2075.0 1070.0 2232.0 1045.0M2050.0 1020.0 2020.0 1050.0 2005.0 1067.5 1982.5 1085.0M2075.0 1070.0 2070.0 1090.0 2047.5 1110.0 2025.0 1120.0 2005.0 1140.0 1980.0 1152.5 1962.5 1172.5 1962.5 1190.0M1662.5 1219.0 1770.0 1210.0 1895.0 1197.5 1962.5 1189.0 2022.5 1180.0 2057.5 1161.0 2122.5 1153.0 2140.0 1167.5 2197.5 1161.0 2232.0 1184.0M2022.5 1180.0 2012.5 1197.5 2040.0 1212.5 2060.0 1237.5 2090.0 1260.0 2110.0 1280.0 2125.0 1290.0 2137.5 1315.0 2152.5 1335.0 2165.0 1342.5M1770.0 1210.0 1772.5 1400.0 1780.0 1497.0M1895.0 1197.5 1935.0 1330.0 1952.5 1360.0 1945.0 1390.0 1952.5 1420.0 1957.5 1440.0 1970.0 1456.0 2117.5 1444.0 2120.0 1430.0 2145.0 1427.5M1825.0 1497.0 1830.0 1475.0 1820.0 1455.0 1957.5 1440.0M2097.5 872.5 2325.0 815.0M2322.5 845.0 2337.5 897.5 2367.5 895.0M2147.5 862.5 2152.5 890.0 2172.5 867.5 2200.0 867.5 2220.0 852.5 2230.0 880.0M2230.0 880.0 2240.0 872.5 2275.0 885.0 2267.5 905.0M2232.0 1040.5 2352.5 1016.5M2197.5 1162.0 2262.5 1205.0M1495.0 1497.0 1492.5 1529.0 1485.0 1549.0M1705.0 1497.0 1715.0 1511.5M2112.5 1449.0 2120.0 1455.0 2120.0 1444.0M1540.0 508.5 1558.4 486.8 1576.7 470.1 1593.4 451.8 1613.4 441.8 1626.8 430.1 1646.8 420.1 1650.1 396.7 1663.5 390.0 1676.8 386.7 1680.2 373.4 1685.2 361.7 1696.8 360.0 1710.2 365.0 1726.9 370.0 1746.9 366.0 1760.2 367.4 1766.9 376.7 1773.6 391.7 1781.9 405.1 1793.6 411.7 1808.6 411.7 1830.3 410.1 1826.9 426.7 1833.6 435.1 1845.3 443.4 1842.0 460.1 1847.0 468.4 1858.6 470.1 1857.0 481.8 1863.6 490.1 1868.6 500.1 1857.0 493.5 1845.3 495.1 1830.3 490.1 1828.6 481.8 1796.9 486.8 1780.2 495.1 1770.2 503.5 1746.9 506.8 1733.5 501.8 1725.2 490.1 1713.5 485.1 1693.5 484.1 1688.5 491.8 1680.2 473.4 1686.8 466.8 1696.8 458.4 1710.2 448.4 1715.2 451.8 1700.2 466.8 1693.5 476.8 1680.2 481.8 1661.8 485.1 1653.5 491.8 1636.8 495.1 1623.4 503.5 1613.4 513.5 1595.1 510.1 1586.8 513.5 1595.1 498.5 1606.8 488.5 1590.1 492.8 1570.1 498.5 1558.4 506.8 1541.7 511.8ZM1763.6 570.2 1780.2 546.8 1810.3 530.2 1847.0 531.8 1838.6 563.5 1828.6 580.2 1826.9 600.2 1813.6 593.5 1796.9 586.9 1795.3 616.9 1790.2 653.6 1795.3 688.6 1810.3 718.6 1811.9 737.0 1808.6 757.0 1795.3 783.7 1773.6 802.0 1763.6 802.0 1753.6 790.4 1745.2 773.7 1736.9 730.3 1733.5 710.3 1736.9 670.3 1743.5 630.2 1746.9 603.6 1761.9 596.9ZM1746.9 563.5 1756.9 546.8 1763.6 570.2 1761.9 576.9 1746.9 583.5 1736.9 603.6 1728.5 616.9 1725.2 626.9 1720.2 620.2 1726.9 608.6 1735.2 590.2 1743.5 576.9ZM1847.0 531.8 1863.6 526.8 1880.3 520.2 1873.6 510.1 1868.6 500.1 1885.3 501.8 1913.7 503.5 1943.7 500.1 1967.1 499.5 1983.7 501.8 2000.4 503.5 2017.1 503.5 2033.8 520.2 2050.5 530.2 2058.8 546.8 2067.1 556.8 2075.5 560.2 2063.8 570.2 2062.1 583.5 2043.8 581.9 2027.1 576.9 2013.8 570.2 2010.4 560.2 2005.4 550.2 1990.4 548.5 1983.7 551.8 2000.4 563.5 2010.4 576.9 2008.8 590.2 2000.4 603.6 1997.1 623.6 2000.4 640.2 2003.8 658.6 1998.7 670.3 1987.1 681.9 1977.1 683.6 1970.4 676.9 1965.4 660.3 1960.4 646.9 1947.0 633.6 1937.0 633.6 1928.7 643.6 1920.4 655.3 1913.7 663.6 1903.7 658.6 1902.0 648.6 1910.3 640.2 1915.3 630.2 1917.0 620.2 1923.7 606.9 1920.4 590.2 1915.3 573.5 1912.0 560.2 1897.0 553.5 1880.3 548.5 1863.6 540.2ZM1960.4 723.6 1970.4 718.6 1982.1 722.0 1983.7 730.3 1973.7 734.3 1963.7 732.0ZM1950.4 763.7 1957.0 757.0 1980.4 753.7 1990.4 740.3 2007.1 727.0 2023.8 710.3 2043.8 702.0 2067.1 700.3 2077.1 693.6 2097.2 683.6 2120.5 673.6 2135.5 670.3 2130.5 680.3 2118.8 695.3 2103.8 703.6 2102.2 717.0 2085.5 727.0 2070.5 735.3 2052.1 737.0 2035.4 753.7 2030.4 767.0 2000.4 770.4 1995.4 783.7 1985.4 785.4 1973.7 787.0 1967.1 777.0 1952.0 777.0ZM2092.2 648.6 2097.2 630.2 2113.8 615.2 2133.9 606.9 2157.2 596.9 2173.9 588.5 2190.6 583.5 2207.2 570.2 2223.9 563.5 2240.6 560.2 2243.9 583.5 2240.6 600.2 2223.9 603.6 2220.6 620.2 2207.2 626.9 2183.9 631.9 2163.9 631.9 2143.9 635.2 2130.5 640.2 2120.5 651.9 2103.8 655.3 2093.8 653.6ZM1650.1 430.1 1656.8 413.4 1673.5 405.1 1681.8 410.1 1675.2 425.1 1661.8 433.4ZM1902.0 516.8 1923.7 520.2 1947.0 515.1 1967.1 510.1 1980.4 513.5 1983.7 523.5 1977.1 533.5 1963.7 530.2 1940.4 526.8 1920.4 523.5 1903.7 521.8Z" fill="none" stroke="#000" stroke-width="4.6" stroke-dasharray="5.4 5.65"/>
<path d="M319.5 181.4 324.0 190.5 430.0 225.0 542.5 259.0 655.0 286.0 820.0 322.5 935.0 341.5 1054.0 355.0 1160.0 366.0 1327.5 373.5 1410.0 374.0 1410.0 350.0 1420.0 352.5 1425.0 380.0 1430.0 390.0 1455.0 393.5 1470.0 401.5 1482.5 395.0 1505.0 397.5 1522.5 412.5 1532.5 410.0 1560.0 426.0 1580.0 420.0 1615.0 421.5 1630.0 427.5 1650.0 422.5M2223.0 575.0 2238.0 565.0 2240.5 545.0 2258.0 520.0 2280.5 502.5 2338.0 487.5 2413.0 465.0 2418.0 447.5 2428.0 440.0 2443.0 422.5 2448.0 395.0 2443.0 350.0 2448.0 325.0 2460.5 292.5 2470.5 292.5 2478.0 300.0 2488.0 292.5 2498.0 284.0 2518.0 290.0 2528.0 295.0 2535.5 315.0 2545.5 345.0 2550.5 370.0 2565.5 370.0 2578.0 395.0 2598.0 395.0M270.0 1227.5 395.0 1248.5 385.0 1260.0 567.5 1375.0 672.5 1395.0 717.5 1402.5 722.5 1376.0 805.0 1386.0 802.5 1372.5M2012.5 200.0 2047.5 400.0 2060.0 422.5 2092.5 457.5 2115.0 462.5 2143.0 461.0 2168.0 475.0 2183.0 472.5 2198.0 490.0 2223.0 487.5 2253.0 470.0 2278.0 462.5 2290.5 466.0M805.0 1386.0 802.5 1372.5 812.5 1386.0 825.0 1410.0 845.0 1425.0 860.0 1447.5 882.5 1467.5 892.5 1491.5 895.0 1519.0 900.0 1534.0 920.0 1554.0 940.0 1566.5 960.0 1580.0 972.5 1581.5 987.5 1569.0 995.0 1549.0 1002.5 1539.0 1025.0 1533.0 1037.5 1538.0 1070.0 1541.5 1090.0 1564.0 1110.0 1586.5 1120.0 1616.5 1131.0 1644.0 1150.0 1669.0 1167.5 1684.0 1170.0 1719.0 1182.5 1739.0 1187.5 1759.0 1210.0 1769.0 1210.0 1769.0 1235.0 1781.5 1265.0 1789.0 1285.0 1799.0 1299.0 1789.0" fill="none" stroke="#000" stroke-width="4.6" stroke-dasharray="5.4 5.65"/>
<path d="M319.5 181.4 324.0 190.5 430.0 225.0 542.5 259.0 655.0 286.0 820.0 322.5 935.0 341.5 1054.0 355.0 1160.0 366.0 1327.5 373.5 1410.0 374.0 1410.0 350.0 1420.0 352.5 1425.0 380.0 1430.0 390.0 1455.0 393.5 1470.0 401.5 1482.5 395.0 1505.0 397.5 1522.5 412.5 1532.5 410.0 1560.0 426.0 1580.0 420.0 1615.0 421.5 1630.0 427.5 1650.0 422.5M2223.0 575.0 2238.0 565.0 2240.5 545.0 2258.0 520.0 2280.5 502.5 2338.0 487.5 2413.0 465.0 2418.0 447.5 2428.0 440.0 2443.0 422.5 2448.0 395.0 2443.0 350.0 2448.0 325.0 2460.5 292.5 2470.5 292.5 2478.0 300.0 2488.0 292.5 2498.0 284.0 2518.0 290.0 2528.0 295.0 2535.5 315.0 2545.5 345.0 2550.5 370.0 2565.5 370.0 2578.0 395.0 2598.0 395.0M270.0 1227.5 395.0 1248.5 385.0 1260.0 567.5 1375.0 672.5 1395.0 717.5 1402.5 722.5 1376.0 805.0 1386.0 802.5 1372.5M2012.5 200.0 2047.5 400.0 2060.0 422.5 2092.5 457.5 2115.0 462.5 2143.0 461.0 2168.0 475.0 2183.0 472.5 2198.0 490.0 2223.0 487.5 2253.0 470.0 2278.0 462.5 2290.5 466.0" fill="none" stroke="#000" stroke-width="4.6" stroke-dasharray="5.4 5.65" stroke-dashoffset="7.6"/>
<path d="M319.5 181.4 322.3 188.2 321.7 198.4 323.4 203.0 326.3 204.1 325.7 211.0 323.4 220.1 320.6 221.8 317.2 220.1 314.9 222.9 317.2 225.7 320.6 226.9 322.3 233.7 321.7 236.0 318.3 238.3 306.4 233.7 304.7 238.3 299.0 240.0 294.4 238.3 291.0 233.1 285.3 233.1 279.6 230.3 270.5 225.7 261.4 221.8 255.7 217.8 252.3 212.1 245.5 204.1 237.5 198.4 235.3 197.3 233.0 204.1 229.6 213.2 227.9 221.2 229.0 229.2 233.0 236.0 233.6 242.8 231.9 249.6 230.1 258.7 230.1 270.1 229.0 279.2 226.2 284.9 226.7 287.7 230.7 283.8 239.2 290.6 227.3 292.9 224.5 298.6 227.9 303.1 231.9 307.7 228.4 314.5 224.5 320.2 216.0 326.0 219.0 335.0 205.0 370.0 192.5 402.5 175.0 435.0 159.0 475.0 142.5 492.5 122.5 517.5 122.5 535.0 116.0 550.0 116.0 565.0 120.0 572.5 112.5 585.0 114.0 600.0 102.5 622.5 90.0 642.5 77.5 655.0 76.0 667.5 85.0 687.5 88.5 700.0 86.0 715.0 79.0 727.5 80.0 740.0 75.0 755.0 82.5 775.0 90.0 790.0 95.0 805.0 90.0 817.5 102.5 832.5 107.5 845.0 102.5 860.0 107.5 880.0 117.5 897.0M216.0 326.0 220.0 331.0 237.5 336.0 250.0 345.0M102.5 832.5 112.5 820.0 122.5 819.0 131.0 827.5 145.0 831.0 157.5 837.5 140.0 831.0 120.0 826.0 111.0 837.5 114.0 852.5 120.0 861.0 111.0 855.0 107.5 845.0M234.1 180.2 247.8 191.6 263.7 204.1 272.8 211.0 278.5 213.8 284.2 212.1 288.7 214.4 291.0 212.1 289.9 204.1 286.5 203.0 285.3 192.8 284.8 180.2M318.3 238.3 320.6 242.8 322.9 249.6 323.4 251.9 318.3 257.6 313.8 261.0 310.9 270.1 309.2 278.1 306.9 287.2 302.4 291.7 297.8 291.7 294.4 294.0 291.0 297.4 286.5 299.1 283.0 296.3 277.4 293.4 273.9 292.3 279.6 286.0 286.5 283.2 291.0 287.2 296.7 283.8 297.8 272.4 300.1 266.7 304.7 261.0 306.9 255.3 302.4 257.6 295.6 258.7 286.5 264.4 279.6 270.1 275.1 274.7 274.5 278.1 279.6 278.6 285.3 277.5M1956.0 207.5 1967.5 192.5 1977.5 181.0M1992.5 181.0 2005.0 192.5 2017.5 202.5M2598.0 395.0 2603.0 410.0 2593.0 422.5 2578.0 437.5 2563.0 445.0 2548.0 455.0 2538.0 450.0 2533.0 470.0 2528.0 492.5 2505.5 507.5 2493.0 522.5 2488.0 545.0 2483.0 565.0 2483.0 580.0 2495.5 589.0 2485.5 610.0 2498.0 615.0 2510.5 630.0 2518.0 636.0 2538.0 631.0 2543.0 622.5 2528.0 612.5 2538.0 617.5 2544.5 631.0 2528.0 642.5 2513.0 645.0 2505.5 655.0 2485.5 667.5 2481.4 668.9 2468.5 679.6 2457.8 683.9 2447.1 688.2 2436.4 693.5 2425.7 696.8 2419.3 697.8 2415.0 703.2 2408.5 708.5 2400.0 717.1 2391.4 724.6 2385.0 734.2 2381.8 741.7 2375.3 747.1 2372.1 753.5 2372.1 758.9 2375.3 762.1 2386.1 760.5 2389.3 765.3 2390.3 779.2 2391.4 800.0 2393.0 800.0 2385.5 820.0 2378.0 840.0 2370.5 860.0M2382.8 751.9 2388.2 736.4 2391.4 726.7 2397.8 724.6 2404.3 722.5 2410.7 723.0 2419.3 718.2 2430.0 713.9 2438.5 709.6 2446.0 700.0 2451.4 696.4 2447.1 704.3 2442.3 713.9 2447.1 713.9 2453.5 706.4 2458.9 701.6 2469.6 697.3 2457.8 708.5 2445.0 719.3 2434.2 726.7 2424.6 733.2 2418.2 738.5 2408.5 742.8 2397.8 748.2 2388.2 751.4 2382.8 751.9M2373.2 712.8 2379.6 718.2 2382.3 725.7 2382.3 734.2M2370.5 860.0 2363.0 855.0 2343.0 840.0 2330.5 825.0 2328.0 820.0M2510.5 662.5 2518.0 657.5 2524.0 661.0 2515.5 666.0 2510.5 662.5M2538.0 659.0 2547.0 655.0 2550.5 660.0 2540.5 662.0 2538.0 659.0M2609.5 410.0 2614.0 407.5 2616.5 417.5 2611.5 421.0 2609.5 410.0M2463.0 180.0 2448.0 205.0 2438.0 235.0 2428.0 257.5 2425.5 285.0 2415.5 315.0 2403.0 342.5 2373.0 370.0 2358.0 385.0 2338.0 407.5 2323.0 445.0 2313.0 460.0 2298.0 480.0 2280.5 502.5M2373.0 256.0 2398.0 255.0 2428.0 257.5M2505.5 180.0 2478.0 205.0 2458.0 235.0 2443.0 265.0 2433.0 295.0 2423.0 320.0 2403.0 345.0 2373.0 370.0M2305.5 460.0 2313.0 447.5 2323.0 450.0 2318.0 462.5 2305.5 460.0M2618.0 180.0 2603.0 202.5 2568.0 209.0 2548.0 222.5 2563.0 215.0 2593.0 225.0 2615.5 210.0 2630.5 207.5 2633.0 192.5 2630.5 220.0 2625.5 250.0 2638.0 255.0 2653.0 272.5 2668.0 285.0 2688.0 290.0 2700.5 287.5 2693.0 300.0 2728.0 295.0 2768.0 282.5 2783.0 270.0 2798.0 275.0 2818.0 272.5 2821.5 270.0M2665.5 257.5 2673.0 237.5 2683.0 257.5 2718.0 257.5 2748.0 242.5 2763.0 240.0 2750.5 257.5 2755.5 272.5 2738.0 277.5 2718.0 270.0 2703.0 275.0 2688.0 270.0 2668.0 267.5 2665.5 257.5M2598.0 395.0 2618.0 385.0 2630.5 370.0 2648.0 355.0 2663.0 337.5 2673.0 322.5 2678.0 312.5 2688.0 310.0 2683.0 325.0 2678.0 345.0 2693.0 342.5M2693.0 342.5 2713.0 332.5 2738.0 322.5 2708.0 342.5 2713.0 352.5 2698.0 342.5 2668.0 375.0 2650.5 405.0 2645.5 430.0 2653.0 445.0 2665.5 455.0 2683.0 462.5 2698.0 457.5 2700.5 445.0 2715.5 422.5 2723.0 395.0 2720.5 382.5 2740.5 372.5 2753.0 362.5 2783.0 337.5 2808.0 310.0 2821.5 297.5M2798.0 180.0 2793.0 240.0 2808.0 265.0 2821.5 270.0M2821.5 235.0 2813.0 250.0 2818.0 265.0M2743.0 185.0 2750.5 181.0 2752.0 192.5 2744.0 196.0 2743.0 185.0M119.0 897.5 120.0 907.5 107.5 920.0 106.0 932.5 115.0 950.0 122.5 975.0 132.5 995.0 135.0 1005.0 132.5 1015.0 141.5 1024.0 137.5 1040.0 132.5 1054.0 140.0 1064.0 155.0 1067.5 167.5 1075.0 177.5 1080.0 192.5 1095.0 192.5 1100.0 210.0 1111.0 226.0 1120.0 229.0 1132.5 226.0 1139.0 235.0 1139.0 242.5 1145.0 255.0 1162.5 265.0 1177.5 270.0 1192.5 269.0 1205.0 266.5 1217.5 270.0 1227.5M407.5 1456.5 411.0 1454.0 417.5 1460.0 419.0 1471.5 426.0 1474.0 424.0 1493.0 415.0 1479.0 407.5 1464.0 407.5 1456.5M131.0 1090.0 142.5 1095.0 150.0 1101.0 142.5 1103.0 135.0 1095.0 131.0 1090.0M157.5 1097.5 175.0 1102.5 172.5 1106.0 160.0 1102.5 157.5 1097.5M159.0 1148.5 165.0 1148.5 166.0 1154.0 160.0 1154.0 159.0 1148.5M212.5 1151.5 222.5 1157.5 224.0 1165.0 216.0 1161.0 212.5 1151.5M202.5 1177.5 206.0 1180.0 214.0 1192.5 207.5 1194.0 204.0 1185.0 202.5 1177.5M144.0 1413.0 149.0 1411.5 152.5 1420.0 150.0 1429.0 146.0 1430.0 144.0 1413.0M2390.0 750.0 2392.5 770.0 2394.0 800.0 2387.5 815.0 2380.0 835.0 2372.5 850.0 2367.5 861.0 2365.0 850.0 2350.0 842.5 2335.0 832.5 2327.5 825.0 2335.0 810.0 2347.5 797.5 2356.0 789.0M2327.5 825.0 2330.0 837.5 2342.5 850.0 2352.5 870.0 2362.5 882.5 2370.0 895.0 2367.5 915.0 2360.0 937.5 2355.0 952.5 2347.5 970.0 2346.5 979.0 2342.5 965.0 2345.0 945.0 2352.5 925.0 2340.0 922.5 2335.0 910.0 2325.0 907.5 2315.0 895.0 2317.5 880.0 2307.5 870.0 2315.0 855.0 2312.5 840.0 2305.0 837.5 2295.0 850.0 2287.5 865.0 2292.5 880.0 2285.0 895.0 2272.5 887.5 2267.5 905.0 2265.0 920.0 2280.0 917.5 2300.0 925.0 2315.0 927.5 2295.0 922.5 2275.0 930.0 2295.0 942.5 2315.0 952.5 2325.0 960.0 2327.5 972.5 2320.0 970.0 2300.0 970.0 2325.0 985.0 2332.5 992.5 2300.0 984.0 2282.5 982.5 2315.0 990.0 2325.0 1000.0 2340.0 994.0 2347.5 993.5M2347.5 993.5 2355.0 1007.5 2367.5 1030.0 2382.5 1050.0 2392.5 1065.0 2396.5 1087.5 2387.5 1092.5 2375.0 1100.0 2367.5 1115.0 2355.0 1135.0 2342.5 1135.0 2325.0 1140.0 2315.0 1150.0 2300.0 1172.5 2295.0 1192.5 2287.5 1197.5 2270.0 1201.5 2260.0 1207.5 2247.5 1222.5 2240.0 1242.5 2235.0 1260.0 2220.0 1277.5 2205.0 1297.5 2185.0 1307.5 2172.5 1320.0 2167.5 1340.0 2157.5 1365.0 2150.0 1395.0 2147.5 1420.0 2155.0 1445.0 2170.0 1475.0M2322.5 1045.0 2325.0 1057.5 2342.5 1052.5 2352.5 1037.5 2362.5 1040.0 2360.0 1065.0 2375.0 1050.0 2377.5 1070.0 2367.5 1085.0 2352.5 1090.0 2340.0 1082.5 2342.5 1095.0 2317.5 1090.0M2320.0 1112.5 2335.0 1121.0 2357.5 1115.0 2352.5 1130.0 2367.5 1115.0M2355.0 1007.5 2365.0 1022.5 2380.0 1045.0 2390.0 1060.0M270.0 1227.5 270.0 1244.0 275.0 1252.5 275.0 1265.0 284.0 1276.0 277.5 1283.0 277.5 1292.5 285.0 1307.5 289.0 1320.0 286.5 1332.5 297.5 1347.5 294.0 1372.5 301.0 1380.0 299.0 1400.0 296.0 1402.5 300.0 1417.5 322.5 1442.5 332.5 1449.0 350.0 1477.5 362.5 1501.5 368.5 1519.0 362.5 1531.5 355.0 1541.5 347.5 1548.0 352.5 1551.5 350.0 1559.0 355.0 1565.0 345.0 1556.5 345.0 1549.0 330.0 1552.5 305.0 1542.5 304.0 1549.0 312.5 1556.5 327.5 1576.5 327.5 1586.5 335.0 1594.0 345.0 1599.0 350.0 1609.0 357.5 1611.5 365.0 1626.5 370.0 1631.5 380.0 1628.0 387.5 1630.0 395.0 1623.0 395.0 1636.5 400.0 1649.0 415.0 1668.0 429.0 1677.5 435.0 1694.0 438.5 1709.0 436.5 1719.0 437.5 1729.0 431.0 1748.0 427.5 1763.0 440.0 1780.0 439.0 1788.0 447.5 1790.5 452.5 1799.0 460.0 1808.0 480.0 1826.5 487.5 1838.0 495.0 1846.5 500.0 1855.0 512.5 1865.0 517.5 1879.0 520.0 1886.5 521.5 1906.5 525.0 1915.5 531.0 1916.5 542.5 1913.0 550.0 1906.5 559.0 1903.0 564.0 1894.0 566.5 1884.0 562.5 1874.0 552.5 1869.0 552.5 1859.0 547.5 1851.5 545.0 1844.0 537.5 1831.5 525.0 1819.0 522.5 1821.5 522.5 1829.0 517.5 1833.0 515.0 1826.5 507.5 1823.0 502.5 1814.0 501.5 1796.5 505.0 1789.0 509.0 1783.0 507.5 1774.0 500.0 1761.5 496.0 1736.5 490.0 1733.0 485.0 1716.5 486.0 1694.0 484.0 1681.5 481.0 1669.0 481.0 1656.5 471.0 1643.0 465.0 1646.5 460.0 1634.0 461.0 1628.0 452.5 1619.0 450.0 1609.0 449.0 1596.5 440.0 1587.5 431.0 1574.0 431.0 1564.0 432.5 1551.5 430.0 1546.5 431.0 1535.0 422.5 1529.0 419.0 1508.0 412.5 1504.0 411.0 1496.5 404.0 1495.0 402.5 1481.5 396.0 1466.5 387.5 1455.0 380.0 1444.0 375.0 1435.0 369.0 1429.0 370.0 1425.0 364.0 1415.0 361.0 1404.0 366.0 1384.0 366.5 1359.0 363.5 1343.0 370.0 1324.0 372.5 1315.0 376.0 1310.0 372.5 1296.5 382.5 1306.5 390.0 1310.0 406.0 1329.0 416.0 1330.0 420.0 1325.0 432.5 1336.5 431.0 1345.0 450.0 1354.0 460.0 1361.5 457.5 1370.0 452.5 1374.0 451.5 1394.0 457.5 1414.0 461.0 1426.5 460.0 1441.5 467.5 1464.0 471.5 1472.5 470.0 1484.0 479.0 1487.5 479.0 1506.5 489.0 1521.5 492.5 1534.0 497.5 1544.0 509.0 1552.5 515.0 1569.0 521.5 1581.5 532.5 1589.0 536.0 1588.0 553.5 1595.0 547.5 1605.0 546.0 1619.0 550.0 1631.5 559.0 1643.0 577.5 1651.5 577.5 1661.5 581.0 1674.0 585.0 1678.0 598.5 1679.0 608.5 1693.0 610.0 1703.0 615.0 1710.0 607.5 1708.0 593.5 1721.5 592.5 1739.0 597.5 1748.0 605.0 1751.5 615.0 1750.0 622.5 1746.5 610.0 1758.0 612.5 1761.5 625.0 1759.0 626.5 1768.0 640.0 1779.0 648.5 1788.0 663.5 1795.5 660.0 1798.0 650.0 1794.0 662.5 1814.0 662.5 1824.0 672.5 1833.0 689.0 1838.0 687.5 1846.5 675.0 1836.5 710.0 1870.0 717.5 1881.5 727.5 1901.5 734.0 1911.5 742.5 1930.0 751.5 1940.0M415.0 1768.0 429.0 1739.0 425.0 1761.5 420.0 1774.0 425.0 1786.5 435.0 1786.5 444.0 1801.5 430.0 1789.0 422.5 1785.0 419.0 1771.5 415.0 1768.0M457.5 1509.0 465.0 1493.0 475.0 1491.5 475.0 1506.5 468.5 1520.0 457.5 1511.5 457.5 1509.0M291.5 1521.5 299.0 1515.0 301.0 1508.0 304.0 1514.0 302.5 1524.0 299.0 1528.0 291.5 1521.5M507.5 1771.5 512.5 1767.5 517.5 1774.0 517.5 1781.5 507.5 1771.5M490.0 1714.0 495.0 1703.0 500.0 1701.5 497.5 1708.0 490.0 1714.0M547.5 1824.0 550.0 1823.0 552.5 1836.5 549.0 1835.0 547.5 1824.0M464.0 1651.5 470.0 1643.0 472.5 1664.0 467.5 1659.0 464.0 1651.5M1299.0 1789.0 1300.0 1804.0 1295.0 1824.0 1285.0 1844.0 1276.0 1869.0 1270.0 1894.0 1265.0 1919.0 1262.5 1940.0M1299.0 1789.0 1295.0 1769.0 1290.0 1744.0 1289.0 1716.5 1295.0 1699.0 1306.0 1676.5 1320.0 1659.0 1345.0 1643.0 1370.0 1626.5 1395.0 1610.0 1415.0 1594.0 1437.5 1576.5 1460.0 1565.0 1482.5 1556.5M1299.0 1789.0 1285.0 1764.0 1278.5 1729.0 1285.0 1716.5 1272.5 1709.0 1267.5 1699.0 1282.5 1708.0 1289.0 1716.5M1289.0 1684.0 1286.0 1675.0 1300.0 1674.0 1306.0 1664.0 1302.5 1655.0 1317.5 1651.5M1320.0 1659.0 1325.0 1639.0 1342.5 1644.0 1332.5 1621.5 1345.0 1624.0 1367.5 1626.5M1415.0 1594.0 1430.0 1581.5 1422.5 1559.0 1437.5 1555.0 1435.0 1569.0 1447.5 1566.5M1482.5 1556.5 1487.5 1541.5 1492.5 1544.0 1482.5 1555.0 1500.0 1552.5 1522.5 1551.5 1537.5 1555.0 1545.0 1561.5 1570.0 1564.0 1582.5 1560.0 1580.0 1551.5 1592.5 1546.5 1600.0 1551.5 1606.0 1550.0 1612.5 1560.0 1627.5 1563.0 1635.0 1571.5 1629.0 1576.5 1645.0 1583.0 1660.0 1585.5 1667.5 1576.5 1680.0 1575.0 1685.0 1585.0 1692.5 1584.0 1695.0 1566.5 1690.0 1560.0 1705.0 1561.5 1712.5 1569.0 1720.0 1571.5 1735.0 1581.5 1737.5 1589.0 1747.5 1584.0 1752.5 1576.5 1747.5 1569.0 1727.5 1564.0 1715.0 1554.0 1717.5 1546.5 1730.0 1540.0 1732.5 1530.0 1720.0 1530.0 1712.5 1521.5 1722.5 1516.5 1739.0 1520.0 1730.0 1523.0 1710.0 1519.0 1692.5 1526.5 1680.0 1524.0 1672.5 1520.0 1681.0 1508.0 1692.5 1506.5 1705.0 1513.0 1717.5 1514.0 1732.5 1505.0 1742.5 1503.0 1755.0 1498.0 1765.0 1500.5 1795.0 1498.0 1797.5 1481.5 1801.0 1477.5 1806.0 1484.0 1807.5 1496.5 1815.0 1501.5 1827.5 1499.0 1831.0 1491.5 1835.0 1498.0 1845.0 1494.0 1847.5 1481.5 1856.0 1480.0 1857.5 1489.0 1870.0 1486.5 1882.5 1481.5 1895.0 1480.0 1900.0 1484.0 1890.0 1486.5 1900.0 1489.0 1925.0 1496.5 1930.0 1489.0 1931.0 1499.0 1940.0 1505.0 1950.0 1514.0 1950.0 1523.0 1960.0 1521.5 1975.0 1516.5 1992.5 1505.0 2002.5 1501.5 2002.5 1495.0 2020.0 1488.0 2040.0 1496.5 2065.0 1519.0 2082.5 1530.0 2102.5 1544.0 2107.5 1554.0 2110.0 1574.0 2106.0 1614.0 2110.0 1624.0 2117.5 1626.5 2119.0 1614.0 2112.5 1610.0 2130.0 1614.0 2125.0 1631.5 2117.5 1641.5 2130.0 1654.0 2145.0 1674.0 2152.5 1676.5 2155.0 1669.0 2161.0 1668.0 2161.0 1684.0 2156.0 1694.0 2165.0 1700.0 2170.0 1689.0 2175.0 1684.0 2172.5 1696.5 2180.0 1709.0 2187.5 1724.0 2200.0 1731.5 2210.0 1731.5 2215.0 1739.0 2232.0 1756.5M1759.0 1521.5 1761.0 1533.0 1756.0 1546.5M1765.0 1508.0 1774.0 1510.0M1786.0 1507.0 1799.0 1505.0M1802.5 1505.0 1812.5 1503.0M1965.0 1526.5 1977.5 1523.0 1985.0 1516.5M2170.0 1475.0 2183.0 1499.0 2200.5 1524.0 2215.5 1544.0 2228.0 1556.5 2225.5 1569.0 2238.0 1589.0 2250.5 1609.0 2263.0 1634.0 2273.0 1654.0 2278.0 1674.0 2280.5 1704.0 2282.0 1716.5 2275.5 1734.0 2274.0 1749.0 2280.5 1753.0 2273.0 1769.0 2263.0 1781.5M2208.0 1544.0 2218.0 1569.0 2238.0 1599.0 2263.0 1636.5M2210.5 1544.0 2223.0 1569.0 2240.5 1596.5 2263.0 1634.0M2280.5 1753.0 2268.0 1761.5 2255.5 1766.5 2245.5 1766.5 2233.0 1773.0 2228.0 1765.0 2233.0 1759.0 2242.0 1764.0 2233.0 1760.0 2224.0 1749.0 2210.5 1734.0 2193.0 1730.0 2180.5 1716.5 2174.0 1699.0 2165.5 1696.5 2160.5 1701.5 2155.5 1694.0 2163.0 1691.5 2160.5 1669.0 2152.0 1670.0 2149.0 1676.5 2138.0 1664.0 2120.5 1641.5 2128.0 1624.0 2130.5 1614.0 2118.0 1610.0 2113.0 1614.0 2123.0 1619.0 2115.5 1626.5 2107.0 1621.5 2108.0 1594.0 2110.5 1576.5 2107.0 1554.0 2098.0 1544.0 2083.0 1534.0 2065.5 1523.0 2050.5 1506.5 2038.0 1496.5 2018.0 1488.0M2115.5 1940.0 2133.0 1930.0 2163.0 1921.5 2183.0 1910.0 2198.0 1906.5 2228.0 1906.5 2245.5 1901.5 2249.0 1906.5 2268.0 1900.0 2284.0 1896.5 2290.5 1903.0 2303.0 1905.0 2318.0 1901.5 2335.5 1903.0 2348.0 1914.0 2363.0 1921.5 2378.0 1926.5 2398.0 1921.5 2423.0 1924.0 2448.0 1931.5 2468.0 1940.0M2348.0 1904.0 2368.0 1911.5M2480.5 1938.0 2495.5 1940.0M2193.0 1940.0 2218.0 1936.5 2228.0 1940.0M2262.0 1784.0 2270.0 1770.0 2278.0 1752.0M2334.0 1651.5 2350.5 1660.0 2368.0 1653.0 2394.0 1641.5 2393.0 1636.5 2373.0 1641.5 2358.0 1640.0 2352.0 1649.0 2334.0 1651.5M2390.5 1624.0 2413.0 1621.5 2433.0 1634.0 2445.5 1639.0 2449.0 1651.5 2443.0 1664.0 2445.5 1679.0 2433.0 1673.0 2440.5 1659.0 2437.0 1641.5 2423.0 1630.0 2403.0 1624.0 2390.5 1624.0M2399.0 1735.0 2413.0 1739.0 2418.0 1749.0 2433.0 1761.5 2435.5 1774.0 2420.5 1789.0 2408.0 1779.0 2394.0 1774.0 2403.0 1769.0 2400.5 1761.5 2405.5 1746.5 2399.0 1735.0M2425.5 1791.5 2443.0 1786.5 2453.0 1799.0 2458.0 1818.0 2445.5 1821.5 2440.5 1811.5 2425.5 1791.5M2478.0 1693.0 2488.0 1699.0 2500.5 1703.0 2518.0 1711.5 2520.5 1729.0 2523.0 1743.0 2512.0 1735.0 2518.0 1731.5 2517.0 1716.5 2498.0 1706.5 2477.0 1703.0 2478.0 1693.0M2438.0 1736.5 2448.0 1731.5 2455.5 1734.0 2445.5 1739.0 2438.0 1736.5M2548.0 1734.0 2555.5 1735.0 2568.0 1749.0 2582.0 1759.0 2570.5 1765.0 2578.0 1760.0 2563.0 1749.0 2549.0 1736.5 2548.0 1734.0M2547.0 1803.0 2558.0 1806.5 2570.5 1810.0 2560.5 1810.0 2548.0 1806.5 2547.0 1803.0M2588.0 1791.5 2598.0 1799.0 2608.0 1814.0 2610.5 1821.5 2625.5 1829.0 2629.0 1835.0 2618.0 1824.0 2603.0 1821.5 2598.0 1806.5 2588.0 1791.5M2660.5 1829.0 2673.0 1831.5 2685.5 1829.0 2693.0 1841.5 2688.0 1855.0 2673.0 1869.0 2685.5 1849.0 2685.5 1836.5 2668.0 1836.5 2660.5 1831.5 2660.5 1829.0M2627.0 1750.0 2632.0 1749.0 2633.0 1758.0 2628.0 1763.0 2627.0 1750.0M2735.5 1834.0 2753.0 1832.5 2761.5 1836.5 2745.5 1838.0 2735.5 1838.0 2735.5 1834.0M2728.0 1928.0 2738.0 1920.0 2755.5 1916.5 2763.0 1905.0 2765.5 1916.5 2762.0 1929.0 2738.0 1939.0 2728.0 1928.0M2757.0 1891.5 2763.0 1886.5 2766.5 1890.5 2760.5 1895.0 2757.0 1891.5M2793.0 1859.0 2805.5 1858.0 2798.0 1864.0 2793.0 1859.0M2810.5 1845.5 2818.0 1844.0 2820.5 1851.5 2810.5 1845.5M2407.0 1910.0 2425.5 1906.5 2448.0 1916.5 2475.5 1929.0 2478.0 1936.5 2463.0 1934.0 2438.0 1916.5 2418.0 1913.0 2407.0 1910.0" fill="none" stroke="#000" stroke-width="4.4" stroke-linejoin="round" stroke-linecap="round"/>
<path d="M2199.0 1818.0 2205.0 1815.0M2210.0 1813.0 2215.0 1807.0M2221.0 1802.0 2226.0 1807.0M2238.0 1800.0 2248.0 1796.0M2253.0 1791.0 2256.0 1789.0" fill="none" stroke="#000" stroke-width="7.5" stroke-linejoin="round" stroke-linecap="round"/>
<path d="M289.9 180.8 289.3 203.0M299.0 207.5 306.9 220.1M309.2 205.3 312.6 208.7 308.1 215.5 308.1 221.2M309.8 181.4 313.8 185.9 318.3 182.5M313.8 226.9 308.1 233.7 309.2 240.5 313.8 238.3 318.3 242.8 314.9 249.6 309.2 247.4 308.1 251.9 312.6 255.3M313.8 259.9 309.2 266.7 306.9 278.1 302.4 288.3" fill="none" stroke="#000" stroke-width="9" stroke-linejoin="round" stroke-linecap="round"/>
</g>
<rect x="30.5" y="178.5" width="2790.0" height="1763.0" fill="none" stroke="#000" stroke-width="3"/>
<rect x="2994.2" y="1597.2" width="74.0" height="134.9" fill="#053061" shape-rendering="crispEdges"/>
<rect x="2994.2" y="1462.8" width="74.0" height="134.9" fill="#256baf" shape-rendering="crispEdges"/>
<rect x="2994.2" y="1328.5" width="74.0" height="134.9" fill="#559ec9" shape-rendering="crispEdges"/>
<rect x="2994.2" y="1194.1" width="74.0" height="134.9" fill="#a7d0e4" shape-rendering="crispEdges"/>
<rect x="2994.2" y="1059.8" width="74.0" height="134.9" fill="#e2edf3" shape-rendering="crispEdges"/>
<rect x="2994.2" y="925.4" width="74.0" height="134.9" fill="#fae7dc" shape-rendering="crispEdges"/>
<rect x="2994.2" y="791.1" width="74.0" height="134.9" fill="#f7b799" shape-rendering="crispEdges"/>
<rect x="2994.2" y="656.7" width="74.0" height="134.9" fill="#dd6f59" shape-rendering="crispEdges"/>
<rect x="2994.2" y="522.4" width="74.0" height="134.9" fill="#b6202f" shape-rendering="crispEdges"/>
<rect x="2994.2" y="388.0" width="74.0" height="134.9" fill="#67001f" shape-rendering="crispEdges"/>
<path d="M2994.2 388.5L3031.2 320L3068.2 388.5Z" fill="#67001f"/>
<path d="M2994.2 1731.0L3031.2 1799L3068.2 1731.0Z" fill="#053061"/>
<path d="M2994.2 388.0L3031.2 320L3068.2 388.0L3068.2 1731.5L3031.2 1799L2994.2 1731.5Z" fill="none" stroke="#000" stroke-width="3.3" stroke-linejoin="miter"/>
<path d="M3068.2 1731.5h15" stroke="#000" stroke-width="3.3"/>
<text x="3100" y="1746.7" font-size="41.7" textLength="62" lengthAdjust="spacingAndGlyphs">0.0</text>
<path d="M3068.2 1597.2h15" stroke="#000" stroke-width="3.3"/>
<text x="3100" y="1612.4" font-size="41.7" textLength="62" lengthAdjust="spacingAndGlyphs">0.1</text>
<path d="M3068.2 1462.8h15" stroke="#000" stroke-width="3.3"/>
<text x="3100" y="1478.0" font-size="41.7" textLength="62" lengthAdjust="spacingAndGlyphs">0.2</text>
<path d="M3068.2 1328.5h15" stroke="#000" stroke-width="3.3"/>
<text x="3100" y="1343.7" font-size="41.7" textLength="62" lengthAdjust="spacingAndGlyphs">0.3</text>
<path d="M3068.2 1194.1h15" stroke="#000" stroke-width="3.3"/>
<text x="3100" y="1209.3" font-size="41.7" textLength="62" lengthAdjust="spacingAndGlyphs">0.4</text>
<path d="M3068.2 1059.8h15" stroke="#000" stroke-width="3.3"/>
<text x="3100" y="1075.0" font-size="41.7" textLength="62" lengthAdjust="spacingAndGlyphs">0.5</text>
<path d="M3068.2 925.4h15" stroke="#000" stroke-width="3.3"/>
<text x="3100" y="940.6" font-size="41.7" textLength="62" lengthAdjust="spacingAndGlyphs">0.6</text>
<path d="M3068.2 791.1h15" stroke="#000" stroke-width="3.3"/>
<text x="3100" y="806.3" font-size="41.7" textLength="62" lengthAdjust="spacingAndGlyphs">0.7</text>
<path d="M3068.2 656.7h15" stroke="#000" stroke-width="3.3"/>
<text x="3100" y="671.9" font-size="41.7" textLength="62" lengthAdjust="spacingAndGlyphs">0.8</text>
<path d="M3068.2 522.4h15" stroke="#000" stroke-width="3.3"/>
<text x="3100" y="537.6" font-size="41.7" textLength="62" lengthAdjust="spacingAndGlyphs">0.9</text>
<path d="M3068.2 388.0h15" stroke="#000" stroke-width="3.3"/>
<text x="3100" y="403.2" font-size="41.7" textLength="62" lengthAdjust="spacingAndGlyphs">1.0</text>
<text transform="translate(3210.5 1062) rotate(-90)" text-anchor="middle" font-size="41.7" textLength="168" lengthAdjust="spacingAndGlyphs">Hit Rate</text>
<text x="905.8" y="79.5" font-size="68" textLength="93.2" lengthAdjust="spacingAndGlyphs">Hit</text>
<text x="1021.7" y="79.5" font-size="68" textLength="148.8" lengthAdjust="spacingAndGlyphs">Rate</text>
<text x="1197.0" y="79.5" font-size="68" textLength="212.5" lengthAdjust="spacingAndGlyphs">(Below</text>
<text x="1442.5" y="79.5" font-size="68" textLength="283.5" lengthAdjust="spacingAndGlyphs">Normal):</text>
<text x="1750.9" y="79.5" font-size="68" textLength="195.0" lengthAdjust="spacingAndGlyphs">CWRF</text>
<text x="721.4" y="153.6" font-size="68" textLength="290.0" lengthAdjust="spacingAndGlyphs">Variable:</text>
<text x="1033.0" y="153.6" font-size="68" textLength="254.4" lengthAdjust="spacingAndGlyphs">T2MAX,</text>
<text x="1310.6" y="153.6" font-size="68" textLength="227.1" lengthAdjust="spacingAndGlyphs">Month:</text>
<text x="1561.0" y="153.6" font-size="68" textLength="166.7" lengthAdjust="spacingAndGlyphs">AUG,</text>
<text x="1752.5" y="153.6" font-size="68" textLength="180.5" lengthAdjust="spacingAndGlyphs">Start:</text>
<text x="1958.7" y="153.6" font-size="68" textLength="165.1" lengthAdjust="spacingAndGlyphs">0312</text>
</svg></body></html>
